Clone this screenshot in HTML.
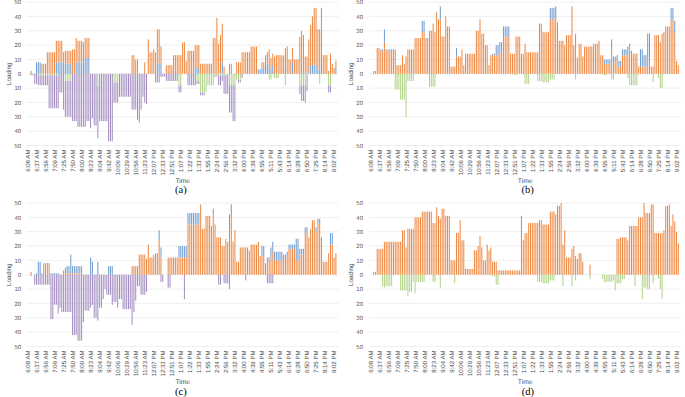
<!DOCTYPE html>
<html><head><meta charset="utf-8"><title>Loading charts</title>
<style>html,body{margin:0;padding:0;background:#fff}svg{display:block}text{font-family:"Liberation Sans",sans-serif;text-rendering:geometricPrecision}text.cap{font-family:"Liberation Serif",serif}</style></head><body>
<svg width="685" height="397" viewBox="0 0 685 397">
<rect width="685" height="397" fill="#fff"/>
<line x1="26.60" x2="338.60" y1="145.50" y2="145.50" stroke="#E9E9E9" stroke-width="0.75"/>
<line x1="26.60" x2="338.60" y1="131.16" y2="131.16" stroke="#E9E9E9" stroke-width="0.75"/>
<line x1="26.60" x2="338.60" y1="116.82" y2="116.82" stroke="#E9E9E9" stroke-width="0.75"/>
<line x1="26.60" x2="338.60" y1="102.48" y2="102.48" stroke="#E9E9E9" stroke-width="0.75"/>
<line x1="26.60" x2="338.60" y1="88.14" y2="88.14" stroke="#E9E9E9" stroke-width="0.75"/>
<line x1="26.60" x2="338.60" y1="73.80" y2="73.80" stroke="#E9E9E9" stroke-width="0.75"/>
<line x1="26.60" x2="338.60" y1="59.46" y2="59.46" stroke="#E9E9E9" stroke-width="0.75"/>
<line x1="26.60" x2="338.60" y1="45.12" y2="45.12" stroke="#E9E9E9" stroke-width="0.75"/>
<line x1="26.60" x2="338.60" y1="30.78" y2="30.78" stroke="#E9E9E9" stroke-width="0.75"/>
<line x1="26.60" x2="338.60" y1="16.44" y2="16.44" stroke="#E9E9E9" stroke-width="0.75"/>
<line x1="26.60" x2="338.60" y1="2.10" y2="2.10" stroke="#E9E9E9" stroke-width="0.75"/>
<text x="21.10" y="147.70" font-size="6.0" fill="#595959" text-anchor="end">50</text>
<text x="21.10" y="133.36" font-size="6.0" fill="#595959" text-anchor="end">40</text>
<text x="21.10" y="119.02" font-size="6.0" fill="#595959" text-anchor="end">30</text>
<text x="21.10" y="104.68" font-size="6.0" fill="#595959" text-anchor="end">20</text>
<text x="21.10" y="90.34" font-size="6.0" fill="#595959" text-anchor="end">10</text>
<text x="21.10" y="76.00" font-size="6.0" fill="#595959" text-anchor="end">0</text>
<text x="21.10" y="61.66" font-size="6.0" fill="#595959" text-anchor="end">10</text>
<text x="21.10" y="47.32" font-size="6.0" fill="#595959" text-anchor="end">20</text>
<text x="21.10" y="32.98" font-size="6.0" fill="#595959" text-anchor="end">30</text>
<text x="21.10" y="18.64" font-size="6.0" fill="#595959" text-anchor="end">40</text>
<text x="21.10" y="4.30" font-size="6.0" fill="#595959" text-anchor="end">50</text>
<g opacity="0.9"><rect x="30.595" y="70.93" width="1.028" height="2.87" fill="#ED7D31"/><rect x="30.595" y="73.80" width="1.028" height="1.43" fill="#9A83BB"/><rect x="32.398" y="73.80" width="1.028" height="1.43" fill="#9A83BB"/><rect x="34.202" y="73.80" width="1.028" height="10.04" fill="#9A83BB"/><rect x="36.005" y="62.33" width="1.028" height="11.47" fill="#6193CD"/><rect x="36.005" y="73.80" width="1.028" height="10.04" fill="#9A83BB"/><rect x="37.809" y="62.33" width="1.028" height="11.47" fill="#6193CD"/><rect x="37.809" y="73.80" width="1.028" height="1.43" fill="#ACCF7E"/><rect x="37.809" y="75.23" width="1.028" height="10.04" fill="#9A83BB"/><rect x="39.612" y="62.33" width="1.028" height="11.47" fill="#6193CD"/><rect x="39.612" y="73.80" width="1.028" height="1.43" fill="#ACCF7E"/><rect x="39.612" y="75.23" width="1.028" height="10.04" fill="#9A83BB"/><rect x="41.415" y="63.76" width="1.028" height="10.04" fill="#ED7D31"/><rect x="41.415" y="73.80" width="1.028" height="1.43" fill="#ACCF7E"/><rect x="41.415" y="75.23" width="1.028" height="10.04" fill="#9A83BB"/><rect x="43.219" y="63.76" width="1.028" height="10.04" fill="#ED7D31"/><rect x="43.219" y="73.80" width="1.028" height="1.43" fill="#ACCF7E"/><rect x="43.219" y="75.23" width="1.028" height="10.04" fill="#9A83BB"/><rect x="45.022" y="63.76" width="1.028" height="10.04" fill="#ED7D31"/><rect x="45.022" y="73.80" width="1.028" height="1.43" fill="#ACCF7E"/><rect x="45.022" y="75.23" width="1.028" height="10.04" fill="#9A83BB"/><rect x="46.826" y="52.29" width="1.028" height="21.51" fill="#ED7D31"/><rect x="46.826" y="73.80" width="1.028" height="1.43" fill="#ACCF7E"/><rect x="46.826" y="75.23" width="1.028" height="10.04" fill="#9A83BB"/><rect x="48.629" y="52.29" width="1.028" height="21.51" fill="#ED7D31"/><rect x="48.629" y="73.80" width="1.028" height="1.43" fill="#ACCF7E"/><rect x="48.629" y="75.23" width="1.028" height="32.98" fill="#9A83BB"/><rect x="50.433" y="52.29" width="1.028" height="21.51" fill="#ED7D31"/><rect x="50.433" y="73.80" width="1.028" height="1.43" fill="#ACCF7E"/><rect x="50.433" y="75.23" width="1.028" height="32.98" fill="#9A83BB"/><rect x="52.236" y="52.29" width="1.028" height="21.51" fill="#ED7D31"/><rect x="52.236" y="73.80" width="1.028" height="1.43" fill="#ACCF7E"/><rect x="52.236" y="75.23" width="1.028" height="32.98" fill="#9A83BB"/><rect x="54.040" y="52.29" width="1.028" height="21.51" fill="#ED7D31"/><rect x="54.040" y="73.80" width="1.028" height="1.43" fill="#ACCF7E"/><rect x="54.040" y="75.23" width="1.028" height="32.98" fill="#9A83BB"/><rect x="55.843" y="62.33" width="1.028" height="11.47" fill="#6193CD"/><rect x="55.843" y="40.82" width="1.028" height="21.51" fill="#ED7D31"/><rect x="55.843" y="73.80" width="1.028" height="1.43" fill="#ACCF7E"/><rect x="55.843" y="75.23" width="1.028" height="32.98" fill="#9A83BB"/><rect x="57.647" y="62.33" width="1.028" height="11.47" fill="#6193CD"/><rect x="57.647" y="40.82" width="1.028" height="21.51" fill="#ED7D31"/><rect x="57.647" y="73.80" width="1.028" height="1.43" fill="#ACCF7E"/><rect x="57.647" y="75.23" width="1.028" height="32.98" fill="#9A83BB"/><rect x="59.450" y="62.33" width="1.028" height="11.47" fill="#6193CD"/><rect x="59.450" y="40.82" width="1.028" height="21.51" fill="#ED7D31"/><rect x="59.450" y="73.80" width="1.028" height="18.64" fill="#9A83BB"/><rect x="61.254" y="62.33" width="1.028" height="11.47" fill="#6193CD"/><rect x="61.254" y="40.82" width="1.028" height="21.51" fill="#ED7D31"/><rect x="61.254" y="73.80" width="1.028" height="18.64" fill="#9A83BB"/><rect x="63.057" y="62.33" width="1.028" height="11.47" fill="#6193CD"/><rect x="63.057" y="52.29" width="1.028" height="10.04" fill="#ED7D31"/><rect x="63.057" y="73.80" width="1.028" height="35.85" fill="#9A83BB"/><rect x="64.861" y="63.76" width="1.028" height="10.04" fill="#6193CD"/><rect x="64.861" y="50.86" width="1.028" height="12.91" fill="#ED7D31"/><rect x="64.861" y="73.80" width="1.028" height="7.17" fill="#ACCF7E"/><rect x="64.861" y="80.97" width="1.028" height="35.85" fill="#9A83BB"/><rect x="66.664" y="63.76" width="1.028" height="10.04" fill="#6193CD"/><rect x="66.664" y="50.86" width="1.028" height="12.91" fill="#ED7D31"/><rect x="66.664" y="73.80" width="1.028" height="7.17" fill="#ACCF7E"/><rect x="66.664" y="80.97" width="1.028" height="35.85" fill="#9A83BB"/><rect x="68.468" y="63.76" width="1.028" height="10.04" fill="#6193CD"/><rect x="68.468" y="50.86" width="1.028" height="12.91" fill="#ED7D31"/><rect x="68.468" y="73.80" width="1.028" height="7.17" fill="#ACCF7E"/><rect x="68.468" y="80.97" width="1.028" height="35.85" fill="#9A83BB"/><rect x="70.271" y="63.76" width="1.028" height="10.04" fill="#6193CD"/><rect x="70.271" y="50.86" width="1.028" height="12.91" fill="#ED7D31"/><rect x="70.271" y="73.80" width="1.028" height="7.17" fill="#ACCF7E"/><rect x="70.271" y="80.97" width="1.028" height="35.85" fill="#9A83BB"/><rect x="72.074" y="49.42" width="1.028" height="24.38" fill="#ED7D31"/><rect x="72.074" y="73.80" width="1.028" height="47.32" fill="#9A83BB"/><rect x="73.878" y="49.42" width="1.028" height="24.38" fill="#ED7D31"/><rect x="73.878" y="73.80" width="1.028" height="47.32" fill="#9A83BB"/><rect x="75.681" y="62.33" width="1.028" height="11.47" fill="#6193CD"/><rect x="75.681" y="37.95" width="1.028" height="24.38" fill="#ED7D31"/><rect x="75.681" y="73.80" width="1.028" height="47.32" fill="#9A83BB"/><rect x="77.485" y="62.33" width="1.028" height="11.47" fill="#6193CD"/><rect x="77.485" y="40.82" width="1.028" height="21.51" fill="#ED7D31"/><rect x="77.485" y="73.80" width="1.028" height="53.06" fill="#9A83BB"/><rect x="79.288" y="62.33" width="1.028" height="11.47" fill="#6193CD"/><rect x="79.288" y="40.82" width="1.028" height="21.51" fill="#ED7D31"/><rect x="79.288" y="73.80" width="1.028" height="53.06" fill="#9A83BB"/><rect x="81.092" y="62.33" width="1.028" height="11.47" fill="#6193CD"/><rect x="81.092" y="40.82" width="1.028" height="21.51" fill="#ED7D31"/><rect x="81.092" y="73.80" width="1.028" height="53.06" fill="#9A83BB"/><rect x="82.895" y="62.33" width="1.028" height="11.47" fill="#6193CD"/><rect x="82.895" y="42.25" width="1.028" height="20.08" fill="#ED7D31"/><rect x="82.895" y="73.80" width="1.028" height="53.06" fill="#9A83BB"/><rect x="84.699" y="58.03" width="1.028" height="15.77" fill="#6193CD"/><rect x="84.699" y="37.95" width="1.028" height="20.08" fill="#ED7D31"/><rect x="84.699" y="73.80" width="1.028" height="53.06" fill="#9A83BB"/><rect x="86.502" y="58.03" width="1.028" height="15.77" fill="#6193CD"/><rect x="86.502" y="37.95" width="1.028" height="20.08" fill="#ED7D31"/><rect x="86.502" y="73.80" width="1.028" height="47.32" fill="#9A83BB"/><rect x="88.306" y="58.03" width="1.028" height="15.77" fill="#6193CD"/><rect x="88.306" y="37.95" width="1.028" height="20.08" fill="#ED7D31"/><rect x="88.306" y="73.80" width="1.028" height="47.32" fill="#9A83BB"/><rect x="90.109" y="73.80" width="1.028" height="54.49" fill="#9A83BB"/><rect x="91.913" y="73.80" width="1.028" height="44.45" fill="#9A83BB"/><rect x="93.716" y="73.80" width="1.028" height="51.62" fill="#9A83BB"/><rect x="95.520" y="73.80" width="1.028" height="51.62" fill="#9A83BB"/><rect x="97.323" y="73.80" width="1.028" height="12.91" fill="#ACCF7E"/><rect x="97.323" y="86.71" width="1.028" height="51.62" fill="#9A83BB"/><rect x="99.126" y="73.80" width="1.028" height="47.32" fill="#9A83BB"/><rect x="100.930" y="73.80" width="1.028" height="47.32" fill="#9A83BB"/><rect x="102.733" y="73.80" width="1.028" height="47.32" fill="#9A83BB"/><rect x="104.537" y="73.80" width="1.028" height="47.32" fill="#9A83BB"/><rect x="106.340" y="73.80" width="1.028" height="47.32" fill="#9A83BB"/><rect x="108.144" y="73.80" width="1.028" height="67.40" fill="#9A83BB"/><rect x="109.947" y="73.80" width="1.028" height="67.40" fill="#9A83BB"/><rect x="111.751" y="73.80" width="1.028" height="67.40" fill="#9A83BB"/><rect x="113.554" y="73.80" width="1.028" height="8.60" fill="#ACCF7E"/><rect x="113.554" y="82.40" width="1.028" height="20.08" fill="#9A83BB"/><rect x="115.358" y="73.80" width="1.028" height="8.60" fill="#ACCF7E"/><rect x="115.358" y="82.40" width="1.028" height="20.08" fill="#9A83BB"/><rect x="117.161" y="73.80" width="1.028" height="8.60" fill="#ACCF7E"/><rect x="117.161" y="82.40" width="1.028" height="20.08" fill="#9A83BB"/><rect x="118.965" y="73.80" width="1.028" height="22.94" fill="#9A83BB"/><rect x="120.768" y="73.80" width="1.028" height="22.94" fill="#9A83BB"/><rect x="122.572" y="73.80" width="1.028" height="22.94" fill="#9A83BB"/><rect x="124.375" y="73.80" width="1.028" height="22.94" fill="#9A83BB"/><rect x="126.178" y="73.80" width="1.028" height="22.94" fill="#9A83BB"/><rect x="127.982" y="73.80" width="1.028" height="22.94" fill="#9A83BB"/><rect x="129.785" y="73.80" width="1.028" height="22.94" fill="#9A83BB"/><rect x="131.589" y="55.16" width="1.028" height="18.64" fill="#ED7D31"/><rect x="131.589" y="73.80" width="1.028" height="35.85" fill="#9A83BB"/><rect x="133.392" y="55.16" width="1.028" height="18.64" fill="#ED7D31"/><rect x="133.392" y="73.80" width="1.028" height="35.85" fill="#9A83BB"/><rect x="135.196" y="59.46" width="1.028" height="14.34" fill="#ED7D31"/><rect x="135.196" y="73.80" width="1.028" height="35.85" fill="#9A83BB"/><rect x="136.999" y="59.46" width="1.028" height="14.34" fill="#ED7D31"/><rect x="136.999" y="73.80" width="1.028" height="45.89" fill="#9A83BB"/><rect x="138.803" y="73.80" width="1.028" height="48.76" fill="#9A83BB"/><rect x="140.606" y="73.80" width="1.028" height="35.85" fill="#9A83BB"/><rect x="142.410" y="73.80" width="1.028" height="22.94" fill="#9A83BB"/><rect x="144.213" y="62.33" width="1.028" height="11.47" fill="#ED7D31"/><rect x="144.213" y="73.80" width="1.028" height="28.68" fill="#9A83BB"/><rect x="146.017" y="73.80" width="1.028" height="30.11" fill="#9A83BB"/><rect x="147.820" y="39.38" width="1.028" height="34.42" fill="#ED7D31"/><rect x="149.624" y="52.29" width="1.028" height="21.51" fill="#ED7D31"/><rect x="151.427" y="52.29" width="1.028" height="21.51" fill="#ED7D31"/><rect x="153.231" y="49.42" width="1.028" height="24.38" fill="#ED7D31"/><rect x="155.034" y="52.29" width="1.028" height="21.51" fill="#ED7D31"/><rect x="155.034" y="73.80" width="1.028" height="8.60" fill="#9A83BB"/><rect x="156.837" y="63.76" width="1.028" height="10.04" fill="#6193CD"/><rect x="156.837" y="29.35" width="1.028" height="34.42" fill="#ED7D31"/><rect x="156.837" y="73.80" width="1.028" height="8.60" fill="#9A83BB"/><rect x="158.641" y="63.76" width="1.028" height="10.04" fill="#6193CD"/><rect x="158.641" y="29.35" width="1.028" height="34.42" fill="#ED7D31"/><rect x="158.641" y="73.80" width="1.028" height="8.60" fill="#9A83BB"/><rect x="160.444" y="63.76" width="1.028" height="10.04" fill="#6193CD"/><rect x="160.444" y="46.55" width="1.028" height="17.21" fill="#ED7D31"/><rect x="160.444" y="73.80" width="1.028" height="2.87" fill="#9A83BB"/><rect x="162.248" y="73.80" width="1.028" height="2.87" fill="#9A83BB"/><rect x="164.051" y="73.80" width="1.028" height="2.87" fill="#9A83BB"/><rect x="165.855" y="65.20" width="1.028" height="8.60" fill="#ED7D31"/><rect x="165.855" y="73.80" width="1.028" height="7.17" fill="#9A83BB"/><rect x="167.658" y="65.20" width="1.028" height="8.60" fill="#ED7D31"/><rect x="167.658" y="73.80" width="1.028" height="7.17" fill="#9A83BB"/><rect x="169.462" y="65.20" width="1.028" height="8.60" fill="#ED7D31"/><rect x="169.462" y="73.80" width="1.028" height="7.17" fill="#9A83BB"/><rect x="171.265" y="65.20" width="1.028" height="8.60" fill="#ED7D31"/><rect x="171.265" y="73.80" width="1.028" height="7.17" fill="#9A83BB"/><rect x="173.069" y="55.16" width="1.028" height="18.64" fill="#ED7D31"/><rect x="173.069" y="73.80" width="1.028" height="7.17" fill="#9A83BB"/><rect x="174.872" y="55.16" width="1.028" height="18.64" fill="#ED7D31"/><rect x="174.872" y="73.80" width="1.028" height="7.17" fill="#9A83BB"/><rect x="176.676" y="55.16" width="1.028" height="18.64" fill="#ED7D31"/><rect x="176.676" y="73.80" width="1.028" height="7.17" fill="#9A83BB"/><rect x="178.479" y="55.16" width="1.028" height="18.64" fill="#ED7D31"/><rect x="178.479" y="73.80" width="1.028" height="11.47" fill="#ACCF7E"/><rect x="178.479" y="85.27" width="1.028" height="7.17" fill="#9A83BB"/><rect x="180.283" y="55.16" width="1.028" height="18.64" fill="#ED7D31"/><rect x="180.283" y="73.80" width="1.028" height="11.47" fill="#ACCF7E"/><rect x="180.283" y="85.27" width="1.028" height="7.17" fill="#9A83BB"/><rect x="182.086" y="42.25" width="1.028" height="31.55" fill="#ED7D31"/><rect x="183.889" y="42.25" width="1.028" height="31.55" fill="#ED7D31"/><rect x="185.693" y="60.89" width="1.028" height="12.91" fill="#ED7D31"/><rect x="187.496" y="50.86" width="1.028" height="22.94" fill="#ED7D31"/><rect x="187.496" y="73.80" width="1.028" height="11.47" fill="#9A83BB"/><rect x="189.300" y="50.86" width="1.028" height="22.94" fill="#ED7D31"/><rect x="189.300" y="73.80" width="1.028" height="11.47" fill="#9A83BB"/><rect x="191.103" y="50.86" width="1.028" height="22.94" fill="#ED7D31"/><rect x="191.103" y="73.80" width="1.028" height="11.47" fill="#9A83BB"/><rect x="192.907" y="50.86" width="1.028" height="22.94" fill="#ED7D31"/><rect x="192.907" y="73.80" width="1.028" height="11.47" fill="#9A83BB"/><rect x="194.710" y="68.06" width="1.028" height="5.74" fill="#6193CD"/><rect x="194.710" y="45.12" width="1.028" height="22.94" fill="#ED7D31"/><rect x="194.710" y="73.80" width="1.028" height="11.47" fill="#9A83BB"/><rect x="196.514" y="68.06" width="1.028" height="5.74" fill="#6193CD"/><rect x="196.514" y="45.12" width="1.028" height="22.94" fill="#ED7D31"/><rect x="196.514" y="73.80" width="1.028" height="7.17" fill="#ACCF7E"/><rect x="196.514" y="80.97" width="1.028" height="2.87" fill="#9A83BB"/><rect x="198.317" y="68.06" width="1.028" height="5.74" fill="#6193CD"/><rect x="198.317" y="45.12" width="1.028" height="22.94" fill="#ED7D31"/><rect x="198.317" y="73.80" width="1.028" height="7.17" fill="#ACCF7E"/><rect x="198.317" y="80.97" width="1.028" height="2.87" fill="#9A83BB"/><rect x="200.121" y="63.76" width="1.028" height="10.04" fill="#ED7D31"/><rect x="200.121" y="73.80" width="1.028" height="18.64" fill="#ACCF7E"/><rect x="200.121" y="92.44" width="1.028" height="2.87" fill="#9A83BB"/><rect x="201.924" y="63.76" width="1.028" height="10.04" fill="#ED7D31"/><rect x="201.924" y="73.80" width="1.028" height="18.64" fill="#ACCF7E"/><rect x="201.924" y="92.44" width="1.028" height="2.87" fill="#9A83BB"/><rect x="203.728" y="63.76" width="1.028" height="10.04" fill="#ED7D31"/><rect x="203.728" y="73.80" width="1.028" height="18.64" fill="#ACCF7E"/><rect x="203.728" y="92.44" width="1.028" height="2.87" fill="#9A83BB"/><rect x="205.531" y="63.76" width="1.028" height="10.04" fill="#ED7D31"/><rect x="205.531" y="73.80" width="1.028" height="18.64" fill="#ACCF7E"/><rect x="207.335" y="63.76" width="1.028" height="10.04" fill="#ED7D31"/><rect x="207.335" y="73.80" width="1.028" height="11.47" fill="#ACCF7E"/><rect x="209.138" y="63.76" width="1.028" height="10.04" fill="#ED7D31"/><rect x="209.138" y="73.80" width="1.028" height="11.47" fill="#ACCF7E"/><rect x="210.942" y="63.76" width="1.028" height="10.04" fill="#ED7D31"/><rect x="210.942" y="73.80" width="1.028" height="11.47" fill="#ACCF7E"/><rect x="212.745" y="37.95" width="1.028" height="35.85" fill="#ED7D31"/><rect x="212.745" y="73.80" width="1.028" height="11.47" fill="#ACCF7E"/><rect x="214.548" y="37.95" width="1.028" height="35.85" fill="#ED7D31"/><rect x="214.548" y="73.80" width="1.028" height="1.43" fill="#ACCF7E"/><rect x="214.548" y="75.23" width="1.028" height="1.43" fill="#9A83BB"/><rect x="216.352" y="17.87" width="1.028" height="55.93" fill="#ED7D31"/><rect x="216.352" y="73.80" width="1.028" height="1.43" fill="#ACCF7E"/><rect x="216.352" y="75.23" width="1.028" height="1.43" fill="#9A83BB"/><rect x="218.155" y="43.69" width="1.028" height="30.11" fill="#ED7D31"/><rect x="218.155" y="73.80" width="1.028" height="1.43" fill="#ACCF7E"/><rect x="218.155" y="75.23" width="1.028" height="10.04" fill="#9A83BB"/><rect x="219.959" y="35.08" width="1.028" height="38.72" fill="#ED7D31"/><rect x="219.959" y="73.80" width="1.028" height="1.43" fill="#ACCF7E"/><rect x="219.959" y="75.23" width="1.028" height="10.04" fill="#9A83BB"/><rect x="221.762" y="62.33" width="1.028" height="11.47" fill="#6193CD"/><rect x="221.762" y="23.61" width="1.028" height="38.72" fill="#ED7D31"/><rect x="221.762" y="73.80" width="1.028" height="1.43" fill="#ACCF7E"/><rect x="221.762" y="75.23" width="1.028" height="5.74" fill="#9A83BB"/><rect x="223.566" y="66.63" width="1.028" height="7.17" fill="#ED7D31"/><rect x="223.566" y="73.80" width="1.028" height="1.43" fill="#ACCF7E"/><rect x="223.566" y="75.23" width="1.028" height="18.64" fill="#9A83BB"/><rect x="225.369" y="73.80" width="1.028" height="1.43" fill="#ACCF7E"/><rect x="225.369" y="75.23" width="1.028" height="18.64" fill="#9A83BB"/><rect x="227.173" y="73.80" width="1.028" height="1.43" fill="#ACCF7E"/><rect x="227.173" y="75.23" width="1.028" height="18.64" fill="#9A83BB"/><rect x="228.976" y="63.76" width="1.028" height="10.04" fill="#ED7D31"/><rect x="228.976" y="73.80" width="1.028" height="11.47" fill="#ACCF7E"/><rect x="228.976" y="85.27" width="1.028" height="27.25" fill="#9A83BB"/><rect x="230.780" y="63.76" width="1.028" height="10.04" fill="#ED7D31"/><rect x="230.780" y="73.80" width="1.028" height="11.47" fill="#ACCF7E"/><rect x="230.780" y="85.27" width="1.028" height="27.25" fill="#9A83BB"/><rect x="232.583" y="73.80" width="1.028" height="11.47" fill="#ACCF7E"/><rect x="232.583" y="85.27" width="1.028" height="35.85" fill="#9A83BB"/><rect x="234.387" y="73.80" width="1.028" height="11.47" fill="#ACCF7E"/><rect x="234.387" y="85.27" width="1.028" height="35.85" fill="#9A83BB"/><rect x="236.190" y="62.33" width="1.028" height="11.47" fill="#ED7D31"/><rect x="236.190" y="73.80" width="1.028" height="5.74" fill="#ACCF7E"/><rect x="237.994" y="62.33" width="1.028" height="11.47" fill="#ED7D31"/><rect x="237.994" y="73.80" width="1.028" height="5.74" fill="#ACCF7E"/><rect x="237.994" y="79.54" width="1.028" height="2.87" fill="#9A83BB"/><rect x="239.797" y="62.33" width="1.028" height="11.47" fill="#ED7D31"/><rect x="239.797" y="73.80" width="1.028" height="5.74" fill="#ACCF7E"/><rect x="239.797" y="79.54" width="1.028" height="2.87" fill="#9A83BB"/><rect x="241.600" y="52.29" width="1.028" height="21.51" fill="#ED7D31"/><rect x="241.600" y="73.80" width="1.028" height="4.30" fill="#9A83BB"/><rect x="243.404" y="52.29" width="1.028" height="21.51" fill="#ED7D31"/><rect x="245.207" y="52.29" width="1.028" height="21.51" fill="#ED7D31"/><rect x="247.011" y="52.29" width="1.028" height="21.51" fill="#ED7D31"/><rect x="248.814" y="52.29" width="1.028" height="21.51" fill="#ED7D31"/><rect x="250.618" y="46.55" width="1.028" height="27.25" fill="#ED7D31"/><rect x="252.421" y="46.55" width="1.028" height="27.25" fill="#ED7D31"/><rect x="254.225" y="46.55" width="1.028" height="27.25" fill="#ED7D31"/><rect x="256.028" y="46.55" width="1.028" height="27.25" fill="#ED7D31"/><rect x="257.832" y="69.50" width="1.028" height="4.30" fill="#6193CD"/><rect x="259.635" y="69.50" width="1.028" height="4.30" fill="#6193CD"/><rect x="261.439" y="68.06" width="1.028" height="5.74" fill="#6193CD"/><rect x="261.439" y="62.33" width="1.028" height="5.74" fill="#ED7D31"/><rect x="263.242" y="66.63" width="1.028" height="7.17" fill="#6193CD"/><rect x="263.242" y="62.33" width="1.028" height="4.30" fill="#ED7D31"/><rect x="265.046" y="65.91" width="1.028" height="7.89" fill="#6193CD"/><rect x="265.046" y="55.16" width="1.028" height="10.75" fill="#ED7D31"/><rect x="266.849" y="63.76" width="1.028" height="10.04" fill="#6193CD"/><rect x="266.849" y="52.29" width="1.028" height="11.47" fill="#ED7D31"/><rect x="268.652" y="63.76" width="1.028" height="10.04" fill="#6193CD"/><rect x="268.652" y="49.42" width="1.028" height="14.34" fill="#ED7D31"/><rect x="268.652" y="73.80" width="1.028" height="5.74" fill="#ACCF7E"/><rect x="270.456" y="69.50" width="1.028" height="4.30" fill="#6193CD"/><rect x="270.456" y="58.03" width="1.028" height="11.47" fill="#ED7D31"/><rect x="270.456" y="73.80" width="1.028" height="5.74" fill="#ACCF7E"/><rect x="272.259" y="65.20" width="1.028" height="8.60" fill="#6193CD"/><rect x="272.259" y="53.72" width="1.028" height="11.47" fill="#ED7D31"/><rect x="274.063" y="56.59" width="1.028" height="17.21" fill="#ED7D31"/><rect x="274.063" y="73.80" width="1.028" height="4.30" fill="#ACCF7E"/><rect x="275.866" y="55.16" width="1.028" height="18.64" fill="#ED7D31"/><rect x="275.866" y="73.80" width="1.028" height="4.30" fill="#ACCF7E"/><rect x="277.670" y="55.16" width="1.028" height="18.64" fill="#ED7D31"/><rect x="277.670" y="73.80" width="1.028" height="4.30" fill="#ACCF7E"/><rect x="279.473" y="55.16" width="1.028" height="18.64" fill="#ED7D31"/><rect x="281.277" y="55.16" width="1.028" height="18.64" fill="#ED7D31"/><rect x="283.080" y="55.16" width="1.028" height="18.64" fill="#ED7D31"/><rect x="284.884" y="66.63" width="1.028" height="7.17" fill="#6193CD"/><rect x="284.884" y="47.99" width="1.028" height="18.64" fill="#ED7D31"/><rect x="284.884" y="73.80" width="1.028" height="11.47" fill="#ACCF7E"/><rect x="286.687" y="46.55" width="1.028" height="27.25" fill="#ED7D31"/><rect x="288.491" y="59.46" width="1.028" height="14.34" fill="#ED7D31"/><rect x="290.294" y="59.46" width="1.028" height="14.34" fill="#ED7D31"/><rect x="292.098" y="62.33" width="1.028" height="11.47" fill="#6193CD"/><rect x="292.098" y="47.99" width="1.028" height="14.34" fill="#ED7D31"/><rect x="293.901" y="59.46" width="1.028" height="14.34" fill="#ED7D31"/><rect x="295.705" y="59.46" width="1.028" height="14.34" fill="#ED7D31"/><rect x="297.508" y="59.46" width="1.028" height="14.34" fill="#ED7D31"/><rect x="299.311" y="36.52" width="1.028" height="37.28" fill="#ED7D31"/><rect x="299.311" y="73.80" width="1.028" height="11.47" fill="#ACCF7E"/><rect x="299.311" y="85.27" width="1.028" height="8.60" fill="#9A83BB"/><rect x="301.115" y="68.06" width="1.028" height="5.74" fill="#6193CD"/><rect x="301.115" y="30.78" width="1.028" height="37.28" fill="#ED7D31"/><rect x="301.115" y="73.80" width="1.028" height="11.47" fill="#ACCF7E"/><rect x="301.115" y="85.27" width="1.028" height="15.77" fill="#9A83BB"/><rect x="302.918" y="72.37" width="1.028" height="1.43" fill="#6193CD"/><rect x="302.918" y="35.08" width="1.028" height="37.28" fill="#ED7D31"/><rect x="302.918" y="73.80" width="1.028" height="11.47" fill="#ACCF7E"/><rect x="302.918" y="85.27" width="1.028" height="15.77" fill="#9A83BB"/><rect x="304.722" y="72.37" width="1.028" height="1.43" fill="#6193CD"/><rect x="304.722" y="56.59" width="1.028" height="15.77" fill="#ED7D31"/><rect x="304.722" y="73.80" width="1.028" height="11.47" fill="#ACCF7E"/><rect x="304.722" y="85.27" width="1.028" height="17.21" fill="#9A83BB"/><rect x="306.525" y="72.37" width="1.028" height="1.43" fill="#6193CD"/><rect x="306.525" y="56.59" width="1.028" height="15.77" fill="#ED7D31"/><rect x="306.525" y="73.80" width="1.028" height="1.43" fill="#ACCF7E"/><rect x="306.525" y="75.23" width="1.028" height="15.77" fill="#9A83BB"/><rect x="308.329" y="39.38" width="1.028" height="34.42" fill="#ED7D31"/><rect x="310.132" y="65.20" width="1.028" height="8.60" fill="#6193CD"/><rect x="310.132" y="25.04" width="1.028" height="40.15" fill="#ED7D31"/><rect x="311.936" y="65.20" width="1.028" height="8.60" fill="#6193CD"/><rect x="311.936" y="16.44" width="1.028" height="48.76" fill="#ED7D31"/><rect x="313.739" y="65.20" width="1.028" height="8.60" fill="#6193CD"/><rect x="313.739" y="7.84" width="1.028" height="57.36" fill="#ED7D31"/><rect x="315.543" y="65.20" width="1.028" height="8.60" fill="#6193CD"/><rect x="315.543" y="7.84" width="1.028" height="57.36" fill="#ED7D31"/><rect x="317.346" y="69.50" width="1.028" height="4.30" fill="#6193CD"/><rect x="317.346" y="29.35" width="1.028" height="40.15" fill="#ED7D31"/><rect x="319.150" y="69.50" width="1.028" height="4.30" fill="#6193CD"/><rect x="319.150" y="29.35" width="1.028" height="40.15" fill="#ED7D31"/><rect x="319.150" y="73.80" width="1.028" height="10.04" fill="#ACCF7E"/><rect x="320.953" y="59.46" width="1.028" height="14.34" fill="#6193CD"/><rect x="320.953" y="7.84" width="1.028" height="51.62" fill="#ED7D31"/><rect x="322.757" y="55.16" width="1.028" height="18.64" fill="#ED7D31"/><rect x="324.560" y="55.16" width="1.028" height="18.64" fill="#ED7D31"/><rect x="326.363" y="55.16" width="1.028" height="18.64" fill="#ED7D31"/><rect x="328.167" y="70.93" width="1.028" height="2.87" fill="#ED7D31"/><rect x="328.167" y="73.80" width="1.028" height="11.47" fill="#ACCF7E"/><rect x="328.167" y="85.27" width="1.028" height="7.17" fill="#9A83BB"/><rect x="329.970" y="53.72" width="1.028" height="20.08" fill="#ED7D31"/><rect x="329.970" y="73.80" width="1.028" height="11.47" fill="#ACCF7E"/><rect x="329.970" y="85.27" width="1.028" height="7.17" fill="#9A83BB"/><rect x="331.774" y="63.76" width="1.028" height="10.04" fill="#ED7D31"/><rect x="333.577" y="68.06" width="1.028" height="5.74" fill="#ED7D31"/><rect x="335.381" y="66.63" width="1.028" height="7.17" fill="#6193CD"/><rect x="335.381" y="60.89" width="1.028" height="5.74" fill="#ED7D31"/></g>
<text transform="translate(29.80,149.50) rotate(-90)" font-size="6.1" fill="#4d4d4d" text-anchor="end">6:08 AM</text>
<text transform="translate(38.82,149.50) rotate(-90)" font-size="6.1" fill="#4d4d4d" text-anchor="end">6:37 AM</text>
<text transform="translate(47.84,149.50) rotate(-90)" font-size="6.1" fill="#4d4d4d" text-anchor="end">6:56 AM</text>
<text transform="translate(56.85,149.50) rotate(-90)" font-size="6.1" fill="#4d4d4d" text-anchor="end">7:09 AM</text>
<text transform="translate(65.87,149.50) rotate(-90)" font-size="6.1" fill="#4d4d4d" text-anchor="end">7:25 AM</text>
<text transform="translate(74.89,149.50) rotate(-90)" font-size="6.1" fill="#4d4d4d" text-anchor="end">7:50 AM</text>
<text transform="translate(83.91,149.50) rotate(-90)" font-size="6.1" fill="#4d4d4d" text-anchor="end">8:00 AM</text>
<text transform="translate(92.92,149.50) rotate(-90)" font-size="6.1" fill="#4d4d4d" text-anchor="end">8:23 AM</text>
<text transform="translate(101.94,149.50) rotate(-90)" font-size="6.1" fill="#4d4d4d" text-anchor="end">9:04 AM</text>
<text transform="translate(110.96,149.50) rotate(-90)" font-size="6.1" fill="#4d4d4d" text-anchor="end">9:42 AM</text>
<text transform="translate(119.98,149.50) rotate(-90)" font-size="6.1" fill="#4d4d4d" text-anchor="end">10:06 AM</text>
<text transform="translate(128.99,149.50) rotate(-90)" font-size="6.1" fill="#4d4d4d" text-anchor="end">10:29 AM</text>
<text transform="translate(138.01,149.50) rotate(-90)" font-size="6.1" fill="#4d4d4d" text-anchor="end">10:56 AM</text>
<text transform="translate(147.03,149.50) rotate(-90)" font-size="6.1" fill="#4d4d4d" text-anchor="end">11:23 AM</text>
<text transform="translate(156.04,149.50) rotate(-90)" font-size="6.1" fill="#4d4d4d" text-anchor="end">12:07 PM</text>
<text transform="translate(165.06,149.50) rotate(-90)" font-size="6.1" fill="#4d4d4d" text-anchor="end">12:33 PM</text>
<text transform="translate(174.08,149.50) rotate(-90)" font-size="6.1" fill="#4d4d4d" text-anchor="end">12:51 PM</text>
<text transform="translate(183.10,149.50) rotate(-90)" font-size="6.1" fill="#4d4d4d" text-anchor="end">1:07 PM</text>
<text transform="translate(192.11,149.50) rotate(-90)" font-size="6.1" fill="#4d4d4d" text-anchor="end">1:22 PM</text>
<text transform="translate(201.13,149.50) rotate(-90)" font-size="6.1" fill="#4d4d4d" text-anchor="end">1:33 PM</text>
<text transform="translate(210.15,149.50) rotate(-90)" font-size="6.1" fill="#4d4d4d" text-anchor="end">1:55 PM</text>
<text transform="translate(219.17,149.50) rotate(-90)" font-size="6.1" fill="#4d4d4d" text-anchor="end">2:24 PM</text>
<text transform="translate(228.18,149.50) rotate(-90)" font-size="6.1" fill="#4d4d4d" text-anchor="end">2:56 PM</text>
<text transform="translate(237.20,149.50) rotate(-90)" font-size="6.1" fill="#4d4d4d" text-anchor="end">3:32 PM</text>
<text transform="translate(246.22,149.50) rotate(-90)" font-size="6.1" fill="#4d4d4d" text-anchor="end">4:00 PM</text>
<text transform="translate(255.24,149.50) rotate(-90)" font-size="6.1" fill="#4d4d4d" text-anchor="end">4:39 PM</text>
<text transform="translate(264.25,149.50) rotate(-90)" font-size="6.1" fill="#4d4d4d" text-anchor="end">4:55 PM</text>
<text transform="translate(273.27,149.50) rotate(-90)" font-size="6.1" fill="#4d4d4d" text-anchor="end">5:11 PM</text>
<text transform="translate(282.29,149.50) rotate(-90)" font-size="6.1" fill="#4d4d4d" text-anchor="end">5:43 PM</text>
<text transform="translate(291.30,149.50) rotate(-90)" font-size="6.1" fill="#4d4d4d" text-anchor="end">6:14 PM</text>
<text transform="translate(300.32,149.50) rotate(-90)" font-size="6.1" fill="#4d4d4d" text-anchor="end">6:28 PM</text>
<text transform="translate(309.34,149.50) rotate(-90)" font-size="6.1" fill="#4d4d4d" text-anchor="end">6:50 PM</text>
<text transform="translate(318.36,149.50) rotate(-90)" font-size="6.1" fill="#4d4d4d" text-anchor="end">7:25 PM</text>
<text transform="translate(327.37,149.50) rotate(-90)" font-size="6.1" fill="#4d4d4d" text-anchor="end">8:14 PM</text>
<text transform="translate(336.39,149.50) rotate(-90)" font-size="6.1" fill="#4d4d4d" text-anchor="end">9:02 PM</text>
<text x="182.70" y="182.90" font-size="6.7" fill="#4a4a4a" text-anchor="middle">Time</text>
<text transform="translate(11.40,73.80) rotate(-90)" font-size="6.4" fill="#4a4a4a" text-anchor="middle">Loading</text>
<text x="180.90" y="193.30" font-size="10.5" fill="#000" text-anchor="middle" class="cap">(a)</text>
<line x1="369.10" x2="681.05" y1="145.50" y2="145.50" stroke="#E9E9E9" stroke-width="0.75"/>
<line x1="369.10" x2="681.05" y1="131.16" y2="131.16" stroke="#E9E9E9" stroke-width="0.75"/>
<line x1="369.10" x2="681.05" y1="116.82" y2="116.82" stroke="#E9E9E9" stroke-width="0.75"/>
<line x1="369.10" x2="681.05" y1="102.48" y2="102.48" stroke="#E9E9E9" stroke-width="0.75"/>
<line x1="369.10" x2="681.05" y1="88.14" y2="88.14" stroke="#E9E9E9" stroke-width="0.75"/>
<line x1="369.10" x2="681.05" y1="73.80" y2="73.80" stroke="#E9E9E9" stroke-width="0.75"/>
<line x1="369.10" x2="681.05" y1="59.46" y2="59.46" stroke="#E9E9E9" stroke-width="0.75"/>
<line x1="369.10" x2="681.05" y1="45.12" y2="45.12" stroke="#E9E9E9" stroke-width="0.75"/>
<line x1="369.10" x2="681.05" y1="30.78" y2="30.78" stroke="#E9E9E9" stroke-width="0.75"/>
<line x1="369.10" x2="681.05" y1="16.44" y2="16.44" stroke="#E9E9E9" stroke-width="0.75"/>
<line x1="369.10" x2="681.05" y1="2.10" y2="2.10" stroke="#E9E9E9" stroke-width="0.75"/>
<text x="363.00" y="147.70" font-size="6.0" fill="#595959" text-anchor="end">50</text>
<text x="363.00" y="133.36" font-size="6.0" fill="#595959" text-anchor="end">40</text>
<text x="363.00" y="119.02" font-size="6.0" fill="#595959" text-anchor="end">30</text>
<text x="363.00" y="104.68" font-size="6.0" fill="#595959" text-anchor="end">20</text>
<text x="363.00" y="90.34" font-size="6.0" fill="#595959" text-anchor="end">10</text>
<text x="363.00" y="76.00" font-size="6.0" fill="#595959" text-anchor="end">0</text>
<text x="363.00" y="61.66" font-size="6.0" fill="#595959" text-anchor="end">10</text>
<text x="363.00" y="47.32" font-size="6.0" fill="#595959" text-anchor="end">20</text>
<text x="363.00" y="32.98" font-size="6.0" fill="#595959" text-anchor="end">30</text>
<text x="363.00" y="18.64" font-size="6.0" fill="#595959" text-anchor="end">40</text>
<text x="363.00" y="4.30" font-size="6.0" fill="#595959" text-anchor="end">50</text>
<g opacity="0.9"><rect x="373.094" y="70.93" width="1.028" height="2.87" fill="#ED7D31"/><rect x="374.897" y="70.93" width="1.028" height="2.87" fill="#ED7D31"/><rect x="376.700" y="47.99" width="1.028" height="25.81" fill="#ED7D31"/><rect x="378.504" y="47.99" width="1.028" height="25.81" fill="#ED7D31"/><rect x="380.307" y="50.86" width="1.028" height="22.94" fill="#ED7D31"/><rect x="380.307" y="49.42" width="1.028" height="1.43" fill="#6193CD"/><rect x="382.110" y="50.86" width="1.028" height="22.94" fill="#ED7D31"/><rect x="382.110" y="49.42" width="1.028" height="1.43" fill="#6193CD"/><rect x="383.913" y="42.25" width="1.028" height="31.55" fill="#ED7D31"/><rect x="383.913" y="29.35" width="1.028" height="12.91" fill="#6193CD"/><rect x="385.716" y="50.86" width="1.028" height="22.94" fill="#ED7D31"/><rect x="385.716" y="49.42" width="1.028" height="1.43" fill="#6193CD"/><rect x="387.519" y="50.86" width="1.028" height="22.94" fill="#ED7D31"/><rect x="387.519" y="49.42" width="1.028" height="1.43" fill="#6193CD"/><rect x="389.323" y="50.86" width="1.028" height="22.94" fill="#ED7D31"/><rect x="389.323" y="49.42" width="1.028" height="1.43" fill="#6193CD"/><rect x="391.126" y="50.86" width="1.028" height="22.94" fill="#ED7D31"/><rect x="391.126" y="49.42" width="1.028" height="1.43" fill="#6193CD"/><rect x="392.929" y="50.86" width="1.028" height="22.94" fill="#ED7D31"/><rect x="392.929" y="49.42" width="1.028" height="1.43" fill="#6193CD"/><rect x="394.732" y="50.86" width="1.028" height="22.94" fill="#ED7D31"/><rect x="394.732" y="49.42" width="1.028" height="1.43" fill="#6193CD"/><rect x="394.732" y="73.80" width="1.028" height="15.77" fill="#ACCF7E"/><rect x="396.535" y="65.20" width="1.028" height="8.60" fill="#ED7D31"/><rect x="396.535" y="73.80" width="1.028" height="15.77" fill="#ACCF7E"/><rect x="398.339" y="65.20" width="1.028" height="8.60" fill="#ED7D31"/><rect x="398.339" y="73.80" width="1.028" height="15.77" fill="#ACCF7E"/><rect x="400.142" y="65.20" width="1.028" height="8.60" fill="#ED7D31"/><rect x="400.142" y="73.80" width="1.028" height="25.81" fill="#ACCF7E"/><rect x="401.945" y="55.16" width="1.028" height="18.64" fill="#ED7D31"/><rect x="401.945" y="73.80" width="1.028" height="25.81" fill="#ACCF7E"/><rect x="403.748" y="63.76" width="1.028" height="10.04" fill="#ED7D31"/><rect x="403.748" y="73.80" width="1.028" height="25.81" fill="#ACCF7E"/><rect x="405.551" y="56.59" width="1.028" height="17.21" fill="#ED7D31"/><rect x="405.551" y="73.80" width="1.028" height="43.02" fill="#ACCF7E"/><rect x="407.354" y="49.42" width="1.028" height="24.38" fill="#ED7D31"/><rect x="407.354" y="73.80" width="1.028" height="7.17" fill="#ACCF7E"/><rect x="409.158" y="49.42" width="1.028" height="24.38" fill="#ED7D31"/><rect x="409.158" y="73.80" width="1.028" height="7.17" fill="#ACCF7E"/><rect x="410.961" y="49.42" width="1.028" height="24.38" fill="#ED7D31"/><rect x="410.961" y="73.80" width="1.028" height="7.17" fill="#ACCF7E"/><rect x="412.764" y="49.42" width="1.028" height="24.38" fill="#ED7D31"/><rect x="412.764" y="73.80" width="1.028" height="7.17" fill="#ACCF7E"/><rect x="414.567" y="37.95" width="1.028" height="35.85" fill="#ED7D31"/><rect x="416.370" y="37.95" width="1.028" height="35.85" fill="#ED7D31"/><rect x="418.174" y="37.95" width="1.028" height="35.85" fill="#ED7D31"/><rect x="419.977" y="37.95" width="1.028" height="35.85" fill="#ED7D31"/><rect x="421.780" y="32.21" width="1.028" height="41.59" fill="#ED7D31"/><rect x="421.780" y="20.74" width="1.028" height="11.47" fill="#6193CD"/><rect x="423.583" y="32.21" width="1.028" height="41.59" fill="#ED7D31"/><rect x="423.583" y="20.74" width="1.028" height="11.47" fill="#6193CD"/><rect x="425.386" y="37.95" width="1.028" height="35.85" fill="#ED7D31"/><rect x="427.189" y="37.95" width="1.028" height="35.85" fill="#ED7D31"/><rect x="428.993" y="30.78" width="1.028" height="43.02" fill="#ED7D31"/><rect x="428.993" y="73.80" width="1.028" height="12.91" fill="#ACCF7E"/><rect x="430.796" y="30.78" width="1.028" height="43.02" fill="#ED7D31"/><rect x="430.796" y="73.80" width="1.028" height="12.91" fill="#ACCF7E"/><rect x="432.599" y="23.61" width="1.028" height="50.19" fill="#ED7D31"/><rect x="432.599" y="73.80" width="1.028" height="12.91" fill="#ACCF7E"/><rect x="434.402" y="32.21" width="1.028" height="41.59" fill="#ED7D31"/><rect x="434.402" y="73.80" width="1.028" height="12.91" fill="#ACCF7E"/><rect x="436.205" y="12.14" width="1.028" height="61.66" fill="#ED7D31"/><rect x="438.008" y="19.31" width="1.028" height="54.49" fill="#ED7D31"/><rect x="439.812" y="19.31" width="1.028" height="54.49" fill="#ED7D31"/><rect x="439.812" y="6.40" width="1.028" height="12.91" fill="#6193CD"/><rect x="441.615" y="36.52" width="1.028" height="37.28" fill="#ED7D31"/><rect x="443.418" y="36.52" width="1.028" height="37.28" fill="#ED7D31"/><rect x="445.221" y="16.44" width="1.028" height="57.36" fill="#ED7D31"/><rect x="447.024" y="26.48" width="1.028" height="47.32" fill="#ED7D31"/><rect x="448.828" y="26.48" width="1.028" height="47.32" fill="#ED7D31"/><rect x="450.631" y="66.63" width="1.028" height="7.17" fill="#ED7D31"/><rect x="452.434" y="66.63" width="1.028" height="7.17" fill="#ED7D31"/><rect x="454.237" y="66.63" width="1.028" height="7.17" fill="#ED7D31"/><rect x="456.040" y="56.59" width="1.028" height="17.21" fill="#ED7D31"/><rect x="456.040" y="47.99" width="1.028" height="8.60" fill="#6193CD"/><rect x="457.843" y="56.59" width="1.028" height="17.21" fill="#ED7D31"/><rect x="459.647" y="56.59" width="1.028" height="17.21" fill="#ED7D31"/><rect x="461.450" y="49.42" width="1.028" height="24.38" fill="#ED7D31"/><rect x="463.253" y="65.20" width="1.028" height="8.60" fill="#ED7D31"/><rect x="465.056" y="53.72" width="1.028" height="20.08" fill="#ED7D31"/><rect x="466.859" y="53.72" width="1.028" height="20.08" fill="#ED7D31"/><rect x="468.663" y="53.72" width="1.028" height="20.08" fill="#ED7D31"/><rect x="470.466" y="53.72" width="1.028" height="20.08" fill="#ED7D31"/><rect x="472.269" y="53.72" width="1.028" height="20.08" fill="#ED7D31"/><rect x="474.072" y="53.72" width="1.028" height="20.08" fill="#ED7D31"/><rect x="475.875" y="30.78" width="1.028" height="43.02" fill="#ED7D31"/><rect x="477.678" y="30.78" width="1.028" height="43.02" fill="#ED7D31"/><rect x="479.482" y="19.31" width="1.028" height="54.49" fill="#ED7D31"/><rect x="481.285" y="33.65" width="1.028" height="40.15" fill="#ED7D31"/><rect x="483.088" y="33.65" width="1.028" height="40.15" fill="#ED7D31"/><rect x="484.891" y="45.12" width="1.028" height="28.68" fill="#ED7D31"/><rect x="486.694" y="45.12" width="1.028" height="28.68" fill="#ED7D31"/><rect x="488.498" y="65.20" width="1.028" height="8.60" fill="#ED7D31"/><rect x="490.301" y="55.16" width="1.028" height="18.64" fill="#ED7D31"/><rect x="492.104" y="55.16" width="1.028" height="18.64" fill="#ED7D31"/><rect x="492.104" y="53.72" width="1.028" height="1.43" fill="#6193CD"/><rect x="493.907" y="55.16" width="1.028" height="18.64" fill="#ED7D31"/><rect x="493.907" y="53.72" width="1.028" height="1.43" fill="#6193CD"/><rect x="495.710" y="55.16" width="1.028" height="18.64" fill="#ED7D31"/><rect x="495.710" y="45.12" width="1.028" height="10.04" fill="#6193CD"/><rect x="497.513" y="55.16" width="1.028" height="18.64" fill="#ED7D31"/><rect x="497.513" y="45.12" width="1.028" height="10.04" fill="#6193CD"/><rect x="499.317" y="52.29" width="1.028" height="21.51" fill="#ED7D31"/><rect x="499.317" y="42.25" width="1.028" height="10.04" fill="#6193CD"/><rect x="501.120" y="52.29" width="1.028" height="21.51" fill="#ED7D31"/><rect x="501.120" y="42.25" width="1.028" height="10.04" fill="#6193CD"/><rect x="502.923" y="36.52" width="1.028" height="37.28" fill="#ED7D31"/><rect x="502.923" y="26.48" width="1.028" height="10.04" fill="#6193CD"/><rect x="504.726" y="36.52" width="1.028" height="37.28" fill="#ED7D31"/><rect x="504.726" y="26.48" width="1.028" height="10.04" fill="#6193CD"/><rect x="506.529" y="36.52" width="1.028" height="37.28" fill="#ED7D31"/><rect x="506.529" y="26.48" width="1.028" height="10.04" fill="#6193CD"/><rect x="508.332" y="36.52" width="1.028" height="37.28" fill="#ED7D31"/><rect x="508.332" y="26.48" width="1.028" height="10.04" fill="#6193CD"/><rect x="510.136" y="53.72" width="1.028" height="20.08" fill="#ED7D31"/><rect x="511.939" y="53.72" width="1.028" height="20.08" fill="#ED7D31"/><rect x="513.742" y="53.72" width="1.028" height="20.08" fill="#ED7D31"/><rect x="513.742" y="73.80" width="1.028" height="1.43" fill="#ACCF7E"/><rect x="515.545" y="36.52" width="1.028" height="37.28" fill="#ED7D31"/><rect x="515.545" y="73.80" width="1.028" height="1.43" fill="#ACCF7E"/><rect x="517.348" y="36.52" width="1.028" height="37.28" fill="#ED7D31"/><rect x="519.152" y="36.52" width="1.028" height="37.28" fill="#ED7D31"/><rect x="520.955" y="53.72" width="1.028" height="20.08" fill="#ED7D31"/><rect x="522.758" y="53.72" width="1.028" height="20.08" fill="#ED7D31"/><rect x="524.561" y="43.69" width="1.028" height="30.11" fill="#ED7D31"/><rect x="524.561" y="73.80" width="1.028" height="10.04" fill="#ACCF7E"/><rect x="526.364" y="52.29" width="1.028" height="21.51" fill="#ED7D31"/><rect x="526.364" y="73.80" width="1.028" height="10.04" fill="#ACCF7E"/><rect x="528.167" y="52.29" width="1.028" height="21.51" fill="#ED7D31"/><rect x="528.167" y="73.80" width="1.028" height="10.04" fill="#ACCF7E"/><rect x="529.971" y="52.29" width="1.028" height="21.51" fill="#ED7D31"/><rect x="531.774" y="52.29" width="1.028" height="21.51" fill="#ED7D31"/><rect x="533.577" y="52.29" width="1.028" height="21.51" fill="#ED7D31"/><rect x="535.380" y="52.29" width="1.028" height="21.51" fill="#ED7D31"/><rect x="537.183" y="52.29" width="1.028" height="21.51" fill="#ED7D31"/><rect x="537.183" y="73.80" width="1.028" height="7.17" fill="#ACCF7E"/><rect x="538.987" y="23.61" width="1.028" height="50.19" fill="#ED7D31"/><rect x="538.987" y="73.80" width="1.028" height="7.17" fill="#ACCF7E"/><rect x="540.790" y="23.61" width="1.028" height="50.19" fill="#ED7D31"/><rect x="540.790" y="73.80" width="1.028" height="7.17" fill="#ACCF7E"/><rect x="542.593" y="32.21" width="1.028" height="41.59" fill="#ED7D31"/><rect x="542.593" y="73.80" width="1.028" height="8.60" fill="#ACCF7E"/><rect x="544.396" y="32.21" width="1.028" height="41.59" fill="#ED7D31"/><rect x="544.396" y="73.80" width="1.028" height="8.60" fill="#ACCF7E"/><rect x="546.199" y="32.21" width="1.028" height="41.59" fill="#ED7D31"/><rect x="546.199" y="73.80" width="1.028" height="8.60" fill="#ACCF7E"/><rect x="548.002" y="32.21" width="1.028" height="41.59" fill="#ED7D31"/><rect x="548.002" y="73.80" width="1.028" height="8.60" fill="#ACCF7E"/><rect x="549.806" y="19.31" width="1.028" height="54.49" fill="#ED7D31"/><rect x="549.806" y="7.84" width="1.028" height="11.47" fill="#6193CD"/><rect x="549.806" y="73.80" width="1.028" height="5.74" fill="#ACCF7E"/><rect x="551.609" y="19.31" width="1.028" height="54.49" fill="#ED7D31"/><rect x="551.609" y="7.84" width="1.028" height="11.47" fill="#6193CD"/><rect x="551.609" y="73.80" width="1.028" height="5.74" fill="#ACCF7E"/><rect x="553.412" y="19.31" width="1.028" height="54.49" fill="#ED7D31"/><rect x="553.412" y="7.84" width="1.028" height="11.47" fill="#6193CD"/><rect x="553.412" y="73.80" width="1.028" height="5.74" fill="#ACCF7E"/><rect x="555.215" y="17.87" width="1.028" height="55.93" fill="#ED7D31"/><rect x="555.215" y="6.40" width="1.028" height="11.47" fill="#6193CD"/><rect x="557.018" y="22.18" width="1.028" height="51.62" fill="#ED7D31"/><rect x="558.821" y="40.82" width="1.028" height="32.98" fill="#ED7D31"/><rect x="560.625" y="40.82" width="1.028" height="32.98" fill="#ED7D31"/><rect x="562.428" y="40.82" width="1.028" height="32.98" fill="#ED7D31"/><rect x="564.231" y="45.12" width="1.028" height="28.68" fill="#ED7D31"/><rect x="566.034" y="35.08" width="1.028" height="38.72" fill="#ED7D31"/><rect x="567.837" y="35.08" width="1.028" height="38.72" fill="#ED7D31"/><rect x="569.641" y="35.08" width="1.028" height="38.72" fill="#ED7D31"/><rect x="571.444" y="6.40" width="1.028" height="67.40" fill="#ED7D31"/><rect x="573.247" y="45.12" width="1.028" height="28.68" fill="#ED7D31"/><rect x="575.050" y="33.65" width="1.028" height="40.15" fill="#ED7D31"/><rect x="575.050" y="73.80" width="1.028" height="5.74" fill="#ACCF7E"/><rect x="576.853" y="58.03" width="1.028" height="15.77" fill="#ED7D31"/><rect x="578.656" y="43.69" width="1.028" height="30.11" fill="#ED7D31"/><rect x="580.460" y="43.69" width="1.028" height="30.11" fill="#ED7D31"/><rect x="582.263" y="56.59" width="1.028" height="17.21" fill="#ED7D31"/><rect x="584.066" y="46.55" width="1.028" height="27.25" fill="#ED7D31"/><rect x="585.869" y="46.55" width="1.028" height="27.25" fill="#ED7D31"/><rect x="587.672" y="46.55" width="1.028" height="27.25" fill="#ED7D31"/><rect x="589.476" y="46.55" width="1.028" height="27.25" fill="#ED7D31"/><rect x="591.279" y="46.55" width="1.028" height="27.25" fill="#ED7D31"/><rect x="593.082" y="43.69" width="1.028" height="30.11" fill="#ED7D31"/><rect x="594.885" y="43.69" width="1.028" height="30.11" fill="#ED7D31"/><rect x="596.688" y="43.69" width="1.028" height="30.11" fill="#ED7D31"/><rect x="598.491" y="40.82" width="1.028" height="32.98" fill="#ED7D31"/><rect x="600.295" y="55.16" width="1.028" height="18.64" fill="#ED7D31"/><rect x="602.098" y="55.16" width="1.028" height="18.64" fill="#ED7D31"/><rect x="603.901" y="63.76" width="1.028" height="10.04" fill="#ED7D31"/><rect x="603.901" y="59.46" width="1.028" height="4.30" fill="#6193CD"/><rect x="603.901" y="73.80" width="1.028" height="1.43" fill="#ACCF7E"/><rect x="605.704" y="63.76" width="1.028" height="10.04" fill="#ED7D31"/><rect x="605.704" y="59.46" width="1.028" height="4.30" fill="#6193CD"/><rect x="605.704" y="73.80" width="1.028" height="1.43" fill="#ACCF7E"/><rect x="607.507" y="63.76" width="1.028" height="10.04" fill="#ED7D31"/><rect x="607.507" y="59.46" width="1.028" height="4.30" fill="#6193CD"/><rect x="609.311" y="63.76" width="1.028" height="10.04" fill="#ED7D31"/><rect x="609.311" y="59.46" width="1.028" height="4.30" fill="#6193CD"/><rect x="611.114" y="49.42" width="1.028" height="24.38" fill="#ED7D31"/><rect x="611.114" y="39.38" width="1.028" height="10.04" fill="#6193CD"/><rect x="611.114" y="73.80" width="1.028" height="5.74" fill="#ACCF7E"/><rect x="612.917" y="62.33" width="1.028" height="11.47" fill="#ED7D31"/><rect x="612.917" y="56.59" width="1.028" height="5.74" fill="#6193CD"/><rect x="612.917" y="73.80" width="1.028" height="5.74" fill="#ACCF7E"/><rect x="614.720" y="62.33" width="1.028" height="11.47" fill="#ED7D31"/><rect x="614.720" y="56.59" width="1.028" height="5.74" fill="#6193CD"/><rect x="616.523" y="60.89" width="1.028" height="12.91" fill="#ED7D31"/><rect x="616.523" y="55.16" width="1.028" height="5.74" fill="#6193CD"/><rect x="618.326" y="66.63" width="1.028" height="7.17" fill="#ED7D31"/><rect x="618.326" y="60.89" width="1.028" height="5.74" fill="#6193CD"/><rect x="620.130" y="66.63" width="1.028" height="7.17" fill="#ED7D31"/><rect x="620.130" y="60.89" width="1.028" height="5.74" fill="#6193CD"/><rect x="621.933" y="55.16" width="1.028" height="18.64" fill="#ED7D31"/><rect x="621.933" y="49.42" width="1.028" height="5.74" fill="#6193CD"/><rect x="623.736" y="55.16" width="1.028" height="18.64" fill="#ED7D31"/><rect x="623.736" y="49.42" width="1.028" height="5.74" fill="#6193CD"/><rect x="625.539" y="55.16" width="1.028" height="18.64" fill="#ED7D31"/><rect x="625.539" y="49.42" width="1.028" height="5.74" fill="#6193CD"/><rect x="627.342" y="55.16" width="1.028" height="18.64" fill="#ED7D31"/><rect x="627.342" y="46.55" width="1.028" height="8.60" fill="#6193CD"/><rect x="627.342" y="73.80" width="1.028" height="4.30" fill="#ACCF7E"/><rect x="629.145" y="46.55" width="1.028" height="27.25" fill="#ED7D31"/><rect x="629.145" y="43.69" width="1.028" height="2.87" fill="#6193CD"/><rect x="629.145" y="73.80" width="1.028" height="11.47" fill="#ACCF7E"/><rect x="630.949" y="53.72" width="1.028" height="20.08" fill="#ED7D31"/><rect x="630.949" y="50.86" width="1.028" height="2.87" fill="#6193CD"/><rect x="630.949" y="73.80" width="1.028" height="11.47" fill="#ACCF7E"/><rect x="632.752" y="53.72" width="1.028" height="20.08" fill="#ED7D31"/><rect x="632.752" y="73.80" width="1.028" height="11.47" fill="#ACCF7E"/><rect x="634.555" y="53.72" width="1.028" height="20.08" fill="#ED7D31"/><rect x="634.555" y="73.80" width="1.028" height="11.47" fill="#ACCF7E"/><rect x="636.358" y="53.72" width="1.028" height="20.08" fill="#ED7D31"/><rect x="636.358" y="73.80" width="1.028" height="11.47" fill="#ACCF7E"/><rect x="638.161" y="66.63" width="1.028" height="7.17" fill="#ED7D31"/><rect x="639.965" y="66.63" width="1.028" height="7.17" fill="#ED7D31"/><rect x="639.965" y="49.42" width="1.028" height="17.21" fill="#6193CD"/><rect x="641.768" y="66.63" width="1.028" height="7.17" fill="#ED7D31"/><rect x="641.768" y="49.42" width="1.028" height="17.21" fill="#6193CD"/><rect x="643.571" y="66.63" width="1.028" height="7.17" fill="#ED7D31"/><rect x="643.571" y="55.16" width="1.028" height="11.47" fill="#6193CD"/><rect x="645.374" y="66.63" width="1.028" height="7.17" fill="#ED7D31"/><rect x="645.374" y="55.16" width="1.028" height="11.47" fill="#6193CD"/><rect x="647.177" y="58.03" width="1.028" height="15.77" fill="#ED7D31"/><rect x="647.177" y="33.65" width="1.028" height="24.38" fill="#6193CD"/><rect x="648.980" y="58.03" width="1.028" height="15.77" fill="#ED7D31"/><rect x="648.980" y="33.65" width="1.028" height="24.38" fill="#6193CD"/><rect x="650.784" y="66.63" width="1.028" height="7.17" fill="#ED7D31"/><rect x="652.587" y="66.63" width="1.028" height="7.17" fill="#ED7D31"/><rect x="652.587" y="73.80" width="1.028" height="8.60" fill="#ACCF7E"/><rect x="654.390" y="35.08" width="1.028" height="38.72" fill="#ED7D31"/><rect x="656.193" y="35.08" width="1.028" height="38.72" fill="#ED7D31"/><rect x="657.996" y="35.08" width="1.028" height="38.72" fill="#ED7D31"/><rect x="657.996" y="73.80" width="1.028" height="4.30" fill="#ACCF7E"/><rect x="659.800" y="42.25" width="1.028" height="31.55" fill="#ED7D31"/><rect x="659.800" y="73.80" width="1.028" height="14.34" fill="#ACCF7E"/><rect x="661.603" y="33.65" width="1.028" height="40.15" fill="#ED7D31"/><rect x="661.603" y="73.80" width="1.028" height="14.34" fill="#ACCF7E"/><rect x="663.406" y="32.21" width="1.028" height="41.59" fill="#ED7D31"/><rect x="665.209" y="26.48" width="1.028" height="47.32" fill="#ED7D31"/><rect x="667.012" y="26.48" width="1.028" height="47.32" fill="#ED7D31"/><rect x="668.815" y="26.48" width="1.028" height="47.32" fill="#ED7D31"/><rect x="670.619" y="19.31" width="1.028" height="54.49" fill="#ED7D31"/><rect x="670.619" y="7.84" width="1.028" height="11.47" fill="#6193CD"/><rect x="672.422" y="19.31" width="1.028" height="54.49" fill="#ED7D31"/><rect x="672.422" y="7.84" width="1.028" height="11.47" fill="#6193CD"/><rect x="674.225" y="32.21" width="1.028" height="41.59" fill="#ED7D31"/><rect x="674.225" y="20.74" width="1.028" height="11.47" fill="#6193CD"/><rect x="676.028" y="60.89" width="1.028" height="12.91" fill="#ED7D31"/><rect x="677.831" y="65.20" width="1.028" height="8.60" fill="#ED7D31"/></g>
<text transform="translate(372.75,149.50) rotate(-90)" font-size="6.1" fill="#4d4d4d" text-anchor="end">6:08 AM</text>
<text transform="translate(381.77,149.50) rotate(-90)" font-size="6.1" fill="#4d4d4d" text-anchor="end">6:37 AM</text>
<text transform="translate(390.78,149.50) rotate(-90)" font-size="6.1" fill="#4d4d4d" text-anchor="end">6:56 AM</text>
<text transform="translate(399.80,149.50) rotate(-90)" font-size="6.1" fill="#4d4d4d" text-anchor="end">7:09 AM</text>
<text transform="translate(408.82,149.50) rotate(-90)" font-size="6.1" fill="#4d4d4d" text-anchor="end">7:25 AM</text>
<text transform="translate(417.83,149.50) rotate(-90)" font-size="6.1" fill="#4d4d4d" text-anchor="end">7:50 AM</text>
<text transform="translate(426.85,149.50) rotate(-90)" font-size="6.1" fill="#4d4d4d" text-anchor="end">8:00 AM</text>
<text transform="translate(435.86,149.50) rotate(-90)" font-size="6.1" fill="#4d4d4d" text-anchor="end">8:23 AM</text>
<text transform="translate(444.88,149.50) rotate(-90)" font-size="6.1" fill="#4d4d4d" text-anchor="end">9:04 AM</text>
<text transform="translate(453.89,149.50) rotate(-90)" font-size="6.1" fill="#4d4d4d" text-anchor="end">9:42 AM</text>
<text transform="translate(462.91,149.50) rotate(-90)" font-size="6.1" fill="#4d4d4d" text-anchor="end">10:06 AM</text>
<text transform="translate(471.93,149.50) rotate(-90)" font-size="6.1" fill="#4d4d4d" text-anchor="end">10:29 AM</text>
<text transform="translate(480.94,149.50) rotate(-90)" font-size="6.1" fill="#4d4d4d" text-anchor="end">10:56 AM</text>
<text transform="translate(489.96,149.50) rotate(-90)" font-size="6.1" fill="#4d4d4d" text-anchor="end">11:23 AM</text>
<text transform="translate(498.97,149.50) rotate(-90)" font-size="6.1" fill="#4d4d4d" text-anchor="end">12:07 PM</text>
<text transform="translate(507.99,149.50) rotate(-90)" font-size="6.1" fill="#4d4d4d" text-anchor="end">12:33 PM</text>
<text transform="translate(517.01,149.50) rotate(-90)" font-size="6.1" fill="#4d4d4d" text-anchor="end">12:51 PM</text>
<text transform="translate(526.02,149.50) rotate(-90)" font-size="6.1" fill="#4d4d4d" text-anchor="end">1:07 PM</text>
<text transform="translate(535.04,149.50) rotate(-90)" font-size="6.1" fill="#4d4d4d" text-anchor="end">1:22 PM</text>
<text transform="translate(544.05,149.50) rotate(-90)" font-size="6.1" fill="#4d4d4d" text-anchor="end">1:33 PM</text>
<text transform="translate(553.07,149.50) rotate(-90)" font-size="6.1" fill="#4d4d4d" text-anchor="end">1:55 PM</text>
<text transform="translate(562.09,149.50) rotate(-90)" font-size="6.1" fill="#4d4d4d" text-anchor="end">2:24 PM</text>
<text transform="translate(571.10,149.50) rotate(-90)" font-size="6.1" fill="#4d4d4d" text-anchor="end">2:56 PM</text>
<text transform="translate(580.12,149.50) rotate(-90)" font-size="6.1" fill="#4d4d4d" text-anchor="end">3:32 PM</text>
<text transform="translate(589.13,149.50) rotate(-90)" font-size="6.1" fill="#4d4d4d" text-anchor="end">4:00 PM</text>
<text transform="translate(598.15,149.50) rotate(-90)" font-size="6.1" fill="#4d4d4d" text-anchor="end">4:39 PM</text>
<text transform="translate(607.16,149.50) rotate(-90)" font-size="6.1" fill="#4d4d4d" text-anchor="end">4:55 PM</text>
<text transform="translate(616.18,149.50) rotate(-90)" font-size="6.1" fill="#4d4d4d" text-anchor="end">5:11 PM</text>
<text transform="translate(625.20,149.50) rotate(-90)" font-size="6.1" fill="#4d4d4d" text-anchor="end">5:43 PM</text>
<text transform="translate(634.21,149.50) rotate(-90)" font-size="6.1" fill="#4d4d4d" text-anchor="end">6:14 PM</text>
<text transform="translate(643.23,149.50) rotate(-90)" font-size="6.1" fill="#4d4d4d" text-anchor="end">6:28 PM</text>
<text transform="translate(652.24,149.50) rotate(-90)" font-size="6.1" fill="#4d4d4d" text-anchor="end">6:50 PM</text>
<text transform="translate(661.26,149.50) rotate(-90)" font-size="6.1" fill="#4d4d4d" text-anchor="end">7:25 PM</text>
<text transform="translate(670.28,149.50) rotate(-90)" font-size="6.1" fill="#4d4d4d" text-anchor="end">8:14 PM</text>
<text transform="translate(679.29,149.50) rotate(-90)" font-size="6.1" fill="#4d4d4d" text-anchor="end">9:02 PM</text>
<text x="525.18" y="182.90" font-size="6.7" fill="#4a4a4a" text-anchor="middle">Time</text>
<text transform="translate(353.40,73.80) rotate(-90)" font-size="6.4" fill="#4a4a4a" text-anchor="middle">Loading</text>
<text x="527.70" y="193.30" font-size="10.5" fill="#000" text-anchor="middle" class="cap">(b)</text>
<line x1="26.60" x2="338.60" y1="346.40" y2="346.40" stroke="#E9E9E9" stroke-width="0.75"/>
<line x1="26.60" x2="338.60" y1="332.06" y2="332.06" stroke="#E9E9E9" stroke-width="0.75"/>
<line x1="26.60" x2="338.60" y1="317.72" y2="317.72" stroke="#E9E9E9" stroke-width="0.75"/>
<line x1="26.60" x2="338.60" y1="303.38" y2="303.38" stroke="#E9E9E9" stroke-width="0.75"/>
<line x1="26.60" x2="338.60" y1="289.04" y2="289.04" stroke="#E9E9E9" stroke-width="0.75"/>
<line x1="26.60" x2="338.60" y1="274.70" y2="274.70" stroke="#E9E9E9" stroke-width="0.75"/>
<line x1="26.60" x2="338.60" y1="260.36" y2="260.36" stroke="#E9E9E9" stroke-width="0.75"/>
<line x1="26.60" x2="338.60" y1="246.02" y2="246.02" stroke="#E9E9E9" stroke-width="0.75"/>
<line x1="26.60" x2="338.60" y1="231.68" y2="231.68" stroke="#E9E9E9" stroke-width="0.75"/>
<line x1="26.60" x2="338.60" y1="217.34" y2="217.34" stroke="#E9E9E9" stroke-width="0.75"/>
<line x1="26.60" x2="338.60" y1="203.00" y2="203.00" stroke="#E9E9E9" stroke-width="0.75"/>
<text x="21.10" y="348.60" font-size="6.0" fill="#595959" text-anchor="end">50</text>
<text x="21.10" y="334.26" font-size="6.0" fill="#595959" text-anchor="end">40</text>
<text x="21.10" y="319.92" font-size="6.0" fill="#595959" text-anchor="end">30</text>
<text x="21.10" y="305.58" font-size="6.0" fill="#595959" text-anchor="end">20</text>
<text x="21.10" y="291.24" font-size="6.0" fill="#595959" text-anchor="end">10</text>
<text x="21.10" y="276.90" font-size="6.0" fill="#595959" text-anchor="end">0</text>
<text x="21.10" y="262.56" font-size="6.0" fill="#595959" text-anchor="end">10</text>
<text x="21.10" y="248.22" font-size="6.0" fill="#595959" text-anchor="end">20</text>
<text x="21.10" y="233.88" font-size="6.0" fill="#595959" text-anchor="end">30</text>
<text x="21.10" y="219.54" font-size="6.0" fill="#595959" text-anchor="end">40</text>
<text x="21.10" y="205.20" font-size="6.0" fill="#595959" text-anchor="end">50</text>
<g opacity="0.9"><rect x="30.595" y="271.83" width="1.028" height="2.87" fill="#ED7D31"/><rect x="30.595" y="274.70" width="1.028" height="1.43" fill="#9A83BB"/><rect x="34.202" y="274.70" width="1.028" height="10.04" fill="#9A83BB"/><rect x="36.005" y="273.27" width="1.028" height="1.43" fill="#6193CD"/><rect x="36.005" y="274.70" width="1.028" height="10.04" fill="#9A83BB"/><rect x="37.809" y="261.79" width="1.028" height="12.91" fill="#6193CD"/><rect x="37.809" y="274.70" width="1.028" height="10.04" fill="#9A83BB"/><rect x="39.612" y="261.79" width="1.028" height="12.91" fill="#6193CD"/><rect x="39.612" y="274.70" width="1.028" height="10.04" fill="#9A83BB"/><rect x="41.415" y="273.27" width="1.028" height="1.43" fill="#6193CD"/><rect x="41.415" y="274.70" width="1.028" height="10.04" fill="#9A83BB"/><rect x="43.219" y="264.66" width="1.028" height="10.04" fill="#ED7D31"/><rect x="43.219" y="263.23" width="1.028" height="1.43" fill="#6193CD"/><rect x="43.219" y="274.70" width="1.028" height="10.04" fill="#9A83BB"/><rect x="45.022" y="264.66" width="1.028" height="10.04" fill="#ED7D31"/><rect x="45.022" y="263.23" width="1.028" height="1.43" fill="#6193CD"/><rect x="45.022" y="274.70" width="1.028" height="10.04" fill="#9A83BB"/><rect x="46.826" y="264.66" width="1.028" height="10.04" fill="#ED7D31"/><rect x="46.826" y="263.23" width="1.028" height="1.43" fill="#6193CD"/><rect x="46.826" y="274.70" width="1.028" height="10.04" fill="#9A83BB"/><rect x="48.629" y="264.66" width="1.028" height="10.04" fill="#ED7D31"/><rect x="48.629" y="263.23" width="1.028" height="1.43" fill="#6193CD"/><rect x="48.629" y="274.70" width="1.028" height="10.04" fill="#9A83BB"/><rect x="50.433" y="273.27" width="1.028" height="1.43" fill="#6193CD"/><rect x="50.433" y="274.70" width="1.028" height="44.45" fill="#9A83BB"/><rect x="52.236" y="273.27" width="1.028" height="1.43" fill="#6193CD"/><rect x="52.236" y="274.70" width="1.028" height="44.45" fill="#9A83BB"/><rect x="54.040" y="273.27" width="1.028" height="1.43" fill="#6193CD"/><rect x="54.040" y="274.70" width="1.028" height="30.11" fill="#9A83BB"/><rect x="55.843" y="273.27" width="1.028" height="1.43" fill="#6193CD"/><rect x="55.843" y="274.70" width="1.028" height="30.11" fill="#9A83BB"/><rect x="57.647" y="273.27" width="1.028" height="1.43" fill="#6193CD"/><rect x="57.647" y="274.70" width="1.028" height="38.72" fill="#9A83BB"/><rect x="59.450" y="274.70" width="1.028" height="32.98" fill="#9A83BB"/><rect x="61.254" y="274.70" width="1.028" height="37.28" fill="#9A83BB"/><rect x="63.057" y="270.40" width="1.028" height="4.30" fill="#ED7D31"/><rect x="63.057" y="274.70" width="1.028" height="37.28" fill="#9A83BB"/><rect x="64.861" y="273.27" width="1.028" height="1.43" fill="#ED7D31"/><rect x="64.861" y="267.53" width="1.028" height="5.74" fill="#6193CD"/><rect x="64.861" y="274.70" width="1.028" height="37.28" fill="#9A83BB"/><rect x="66.664" y="273.27" width="1.028" height="1.43" fill="#ED7D31"/><rect x="66.664" y="266.10" width="1.028" height="7.17" fill="#6193CD"/><rect x="66.664" y="274.70" width="1.028" height="37.28" fill="#9A83BB"/><rect x="68.468" y="273.27" width="1.028" height="1.43" fill="#ED7D31"/><rect x="68.468" y="266.10" width="1.028" height="7.17" fill="#6193CD"/><rect x="68.468" y="274.70" width="1.028" height="37.28" fill="#9A83BB"/><rect x="70.271" y="273.27" width="1.028" height="1.43" fill="#ED7D31"/><rect x="70.271" y="254.62" width="1.028" height="18.64" fill="#6193CD"/><rect x="70.271" y="274.70" width="1.028" height="37.28" fill="#9A83BB"/><rect x="72.074" y="273.27" width="1.028" height="1.43" fill="#ED7D31"/><rect x="72.074" y="266.10" width="1.028" height="7.17" fill="#6193CD"/><rect x="72.074" y="274.70" width="1.028" height="60.23" fill="#9A83BB"/><rect x="73.878" y="273.27" width="1.028" height="1.43" fill="#ED7D31"/><rect x="73.878" y="266.10" width="1.028" height="7.17" fill="#6193CD"/><rect x="73.878" y="274.70" width="1.028" height="60.23" fill="#9A83BB"/><rect x="75.681" y="273.27" width="1.028" height="1.43" fill="#ED7D31"/><rect x="75.681" y="266.10" width="1.028" height="7.17" fill="#6193CD"/><rect x="75.681" y="274.70" width="1.028" height="60.23" fill="#9A83BB"/><rect x="77.485" y="273.27" width="1.028" height="1.43" fill="#ED7D31"/><rect x="77.485" y="266.10" width="1.028" height="7.17" fill="#6193CD"/><rect x="77.485" y="274.70" width="1.028" height="65.96" fill="#9A83BB"/><rect x="79.288" y="273.27" width="1.028" height="1.43" fill="#ED7D31"/><rect x="79.288" y="266.10" width="1.028" height="7.17" fill="#6193CD"/><rect x="79.288" y="274.70" width="1.028" height="65.96" fill="#9A83BB"/><rect x="81.092" y="273.27" width="1.028" height="1.43" fill="#ED7D31"/><rect x="81.092" y="266.10" width="1.028" height="7.17" fill="#6193CD"/><rect x="81.092" y="274.70" width="1.028" height="65.96" fill="#9A83BB"/><rect x="82.895" y="274.70" width="1.028" height="47.32" fill="#9A83BB"/><rect x="84.699" y="274.70" width="1.028" height="35.85" fill="#9A83BB"/><rect x="86.502" y="274.70" width="1.028" height="35.85" fill="#9A83BB"/><rect x="88.306" y="274.70" width="1.028" height="35.85" fill="#9A83BB"/><rect x="90.109" y="257.49" width="1.028" height="17.21" fill="#6193CD"/><rect x="90.109" y="274.70" width="1.028" height="32.98" fill="#9A83BB"/><rect x="91.913" y="261.79" width="1.028" height="12.91" fill="#6193CD"/><rect x="91.913" y="274.70" width="1.028" height="30.11" fill="#9A83BB"/><rect x="93.716" y="274.70" width="1.028" height="43.02" fill="#9A83BB"/><rect x="95.520" y="274.70" width="1.028" height="43.02" fill="#9A83BB"/><rect x="97.323" y="261.79" width="1.028" height="12.91" fill="#6193CD"/><rect x="97.323" y="274.70" width="1.028" height="45.89" fill="#9A83BB"/><rect x="99.126" y="274.70" width="1.028" height="32.98" fill="#9A83BB"/><rect x="100.930" y="274.70" width="1.028" height="32.98" fill="#9A83BB"/><rect x="102.733" y="274.70" width="1.028" height="24.38" fill="#9A83BB"/><rect x="104.537" y="274.70" width="1.028" height="14.34" fill="#9A83BB"/><rect x="106.340" y="274.70" width="1.028" height="20.08" fill="#9A83BB"/><rect x="108.144" y="266.10" width="1.028" height="8.60" fill="#6193CD"/><rect x="108.144" y="274.70" width="1.028" height="20.08" fill="#9A83BB"/><rect x="109.947" y="266.10" width="1.028" height="8.60" fill="#6193CD"/><rect x="109.947" y="274.70" width="1.028" height="20.08" fill="#9A83BB"/><rect x="111.751" y="266.10" width="1.028" height="8.60" fill="#6193CD"/><rect x="111.751" y="274.70" width="1.028" height="30.11" fill="#9A83BB"/><rect x="113.554" y="274.70" width="1.028" height="27.25" fill="#9A83BB"/><rect x="115.358" y="274.70" width="1.028" height="27.25" fill="#9A83BB"/><rect x="117.161" y="274.70" width="1.028" height="32.98" fill="#9A83BB"/><rect x="118.965" y="274.70" width="1.028" height="24.38" fill="#9A83BB"/><rect x="120.768" y="274.70" width="1.028" height="24.38" fill="#9A83BB"/><rect x="122.572" y="274.70" width="1.028" height="34.42" fill="#9A83BB"/><rect x="124.375" y="274.70" width="1.028" height="34.42" fill="#9A83BB"/><rect x="126.178" y="274.70" width="1.028" height="34.42" fill="#9A83BB"/><rect x="127.982" y="274.70" width="1.028" height="34.42" fill="#9A83BB"/><rect x="129.785" y="274.70" width="1.028" height="34.42" fill="#9A83BB"/><rect x="131.589" y="266.10" width="1.028" height="8.60" fill="#ED7D31"/><rect x="131.589" y="274.70" width="1.028" height="50.19" fill="#9A83BB"/><rect x="133.392" y="266.10" width="1.028" height="8.60" fill="#ED7D31"/><rect x="133.392" y="274.70" width="1.028" height="37.28" fill="#9A83BB"/><rect x="135.196" y="266.10" width="1.028" height="8.60" fill="#ED7D31"/><rect x="135.196" y="274.70" width="1.028" height="25.81" fill="#9A83BB"/><rect x="136.999" y="266.10" width="1.028" height="8.60" fill="#ED7D31"/><rect x="136.999" y="274.70" width="1.028" height="11.47" fill="#9A83BB"/><rect x="138.803" y="254.62" width="1.028" height="20.08" fill="#ED7D31"/><rect x="138.803" y="274.70" width="1.028" height="11.47" fill="#9A83BB"/><rect x="140.606" y="254.62" width="1.028" height="20.08" fill="#ED7D31"/><rect x="140.606" y="274.70" width="1.028" height="20.08" fill="#9A83BB"/><rect x="142.410" y="254.62" width="1.028" height="20.08" fill="#ED7D31"/><rect x="142.410" y="274.70" width="1.028" height="20.08" fill="#9A83BB"/><rect x="144.213" y="254.62" width="1.028" height="20.08" fill="#ED7D31"/><rect x="144.213" y="274.70" width="1.028" height="20.08" fill="#9A83BB"/><rect x="146.017" y="258.93" width="1.028" height="15.77" fill="#ED7D31"/><rect x="146.017" y="274.70" width="1.028" height="17.21" fill="#9A83BB"/><rect x="147.820" y="244.59" width="1.028" height="30.11" fill="#ED7D31"/><rect x="149.624" y="257.49" width="1.028" height="17.21" fill="#ED7D31"/><rect x="151.427" y="257.49" width="1.028" height="17.21" fill="#ED7D31"/><rect x="153.231" y="254.62" width="1.028" height="20.08" fill="#ED7D31"/><rect x="155.034" y="253.19" width="1.028" height="21.51" fill="#ED7D31"/><rect x="156.837" y="253.19" width="1.028" height="21.51" fill="#ED7D31"/><rect x="158.641" y="240.28" width="1.028" height="34.42" fill="#ED7D31"/><rect x="158.641" y="230.25" width="1.028" height="10.04" fill="#6193CD"/><rect x="160.444" y="257.49" width="1.028" height="17.21" fill="#ED7D31"/><rect x="160.444" y="247.45" width="1.028" height="10.04" fill="#6193CD"/><rect x="160.444" y="274.70" width="1.028" height="7.17" fill="#9A83BB"/><rect x="162.248" y="274.70" width="1.028" height="7.17" fill="#9A83BB"/><rect x="167.658" y="257.49" width="1.028" height="17.21" fill="#ED7D31"/><rect x="167.658" y="274.70" width="1.028" height="12.91" fill="#9A83BB"/><rect x="169.462" y="257.49" width="1.028" height="17.21" fill="#ED7D31"/><rect x="169.462" y="274.70" width="1.028" height="12.91" fill="#9A83BB"/><rect x="171.265" y="257.49" width="1.028" height="17.21" fill="#ED7D31"/><rect x="173.069" y="257.49" width="1.028" height="17.21" fill="#ED7D31"/><rect x="174.872" y="257.49" width="1.028" height="17.21" fill="#ED7D31"/><rect x="176.676" y="257.49" width="1.028" height="17.21" fill="#ED7D31"/><rect x="178.479" y="257.49" width="1.028" height="17.21" fill="#ED7D31"/><rect x="178.479" y="246.02" width="1.028" height="11.47" fill="#6193CD"/><rect x="180.283" y="257.49" width="1.028" height="17.21" fill="#ED7D31"/><rect x="180.283" y="246.02" width="1.028" height="11.47" fill="#6193CD"/><rect x="182.086" y="257.49" width="1.028" height="17.21" fill="#ED7D31"/><rect x="182.086" y="246.02" width="1.028" height="11.47" fill="#6193CD"/><rect x="183.889" y="257.49" width="1.028" height="17.21" fill="#ED7D31"/><rect x="183.889" y="246.02" width="1.028" height="11.47" fill="#6193CD"/><rect x="183.889" y="274.70" width="1.028" height="24.38" fill="#9A83BB"/><rect x="185.693" y="257.49" width="1.028" height="17.21" fill="#ED7D31"/><rect x="185.693" y="246.02" width="1.028" height="11.47" fill="#6193CD"/><rect x="187.496" y="224.51" width="1.028" height="50.19" fill="#ED7D31"/><rect x="187.496" y="213.04" width="1.028" height="11.47" fill="#6193CD"/><rect x="189.300" y="224.51" width="1.028" height="50.19" fill="#ED7D31"/><rect x="189.300" y="213.04" width="1.028" height="11.47" fill="#6193CD"/><rect x="191.103" y="224.51" width="1.028" height="50.19" fill="#ED7D31"/><rect x="191.103" y="213.04" width="1.028" height="11.47" fill="#6193CD"/><rect x="192.907" y="224.51" width="1.028" height="50.19" fill="#ED7D31"/><rect x="192.907" y="213.04" width="1.028" height="11.47" fill="#6193CD"/><rect x="194.710" y="224.51" width="1.028" height="50.19" fill="#ED7D31"/><rect x="194.710" y="213.04" width="1.028" height="11.47" fill="#6193CD"/><rect x="196.514" y="224.51" width="1.028" height="50.19" fill="#ED7D31"/><rect x="196.514" y="213.04" width="1.028" height="11.47" fill="#6193CD"/><rect x="198.317" y="224.51" width="1.028" height="50.19" fill="#ED7D31"/><rect x="198.317" y="213.04" width="1.028" height="11.47" fill="#6193CD"/><rect x="200.121" y="204.43" width="1.028" height="70.27" fill="#ED7D31"/><rect x="201.924" y="228.81" width="1.028" height="45.89" fill="#ED7D31"/><rect x="203.728" y="228.81" width="1.028" height="45.89" fill="#ED7D31"/><rect x="205.531" y="215.91" width="1.028" height="58.79" fill="#ED7D31"/><rect x="207.335" y="215.91" width="1.028" height="58.79" fill="#ED7D31"/><rect x="209.138" y="215.91" width="1.028" height="58.79" fill="#ED7D31"/><rect x="210.942" y="225.94" width="1.028" height="48.76" fill="#ED7D31"/><rect x="212.745" y="214.47" width="1.028" height="60.23" fill="#ED7D31"/><rect x="212.745" y="208.74" width="1.028" height="5.74" fill="#6193CD"/><rect x="214.548" y="224.51" width="1.028" height="50.19" fill="#ED7D31"/><rect x="216.352" y="237.42" width="1.028" height="37.28" fill="#ED7D31"/><rect x="218.155" y="237.42" width="1.028" height="37.28" fill="#ED7D31"/><rect x="218.155" y="274.70" width="1.028" height="10.04" fill="#9A83BB"/><rect x="219.959" y="237.42" width="1.028" height="37.28" fill="#ED7D31"/><rect x="219.959" y="274.70" width="1.028" height="10.04" fill="#9A83BB"/><rect x="221.762" y="246.02" width="1.028" height="28.68" fill="#ED7D31"/><rect x="223.566" y="246.02" width="1.028" height="28.68" fill="#ED7D31"/><rect x="223.566" y="274.70" width="1.028" height="8.60" fill="#9A83BB"/><rect x="225.369" y="238.85" width="1.028" height="35.85" fill="#ED7D31"/><rect x="225.369" y="274.70" width="1.028" height="8.60" fill="#9A83BB"/><rect x="227.173" y="241.72" width="1.028" height="32.98" fill="#ED7D31"/><rect x="227.173" y="274.70" width="1.028" height="8.60" fill="#9A83BB"/><rect x="228.976" y="225.94" width="1.028" height="48.76" fill="#ED7D31"/><rect x="228.976" y="214.47" width="1.028" height="11.47" fill="#6193CD"/><rect x="228.976" y="274.70" width="1.028" height="14.34" fill="#9A83BB"/><rect x="230.780" y="215.91" width="1.028" height="58.79" fill="#ED7D31"/><rect x="230.780" y="204.43" width="1.028" height="11.47" fill="#6193CD"/><rect x="232.583" y="241.72" width="1.028" height="32.98" fill="#ED7D31"/><rect x="234.387" y="230.25" width="1.028" height="44.45" fill="#ED7D31"/><rect x="236.190" y="261.79" width="1.028" height="12.91" fill="#ED7D31"/><rect x="237.994" y="261.79" width="1.028" height="12.91" fill="#ED7D31"/><rect x="239.797" y="247.45" width="1.028" height="27.25" fill="#ED7D31"/><rect x="241.600" y="247.45" width="1.028" height="27.25" fill="#ED7D31"/><rect x="243.404" y="247.45" width="1.028" height="27.25" fill="#ED7D31"/><rect x="245.207" y="247.45" width="1.028" height="27.25" fill="#ED7D31"/><rect x="245.207" y="274.70" width="1.028" height="5.74" fill="#9A83BB"/><rect x="247.011" y="247.45" width="1.028" height="27.25" fill="#ED7D31"/><rect x="248.814" y="250.32" width="1.028" height="24.38" fill="#ED7D31"/><rect x="250.618" y="244.59" width="1.028" height="30.11" fill="#ED7D31"/><rect x="252.421" y="244.59" width="1.028" height="30.11" fill="#ED7D31"/><rect x="254.225" y="244.59" width="1.028" height="30.11" fill="#ED7D31"/><rect x="256.028" y="244.59" width="1.028" height="30.11" fill="#ED7D31"/><rect x="257.832" y="241.72" width="1.028" height="32.98" fill="#ED7D31"/><rect x="259.635" y="256.06" width="1.028" height="18.64" fill="#ED7D31"/><rect x="261.439" y="256.06" width="1.028" height="18.64" fill="#ED7D31"/><rect x="261.439" y="246.02" width="1.028" height="10.04" fill="#6193CD"/><rect x="263.242" y="256.06" width="1.028" height="18.64" fill="#ED7D31"/><rect x="263.242" y="246.02" width="1.028" height="10.04" fill="#6193CD"/><rect x="265.046" y="268.96" width="1.028" height="5.74" fill="#ED7D31"/><rect x="265.046" y="263.23" width="1.028" height="5.74" fill="#6193CD"/><rect x="266.849" y="263.23" width="1.028" height="11.47" fill="#ED7D31"/><rect x="266.849" y="257.49" width="1.028" height="5.74" fill="#6193CD"/><rect x="266.849" y="274.70" width="1.028" height="8.60" fill="#9A83BB"/><rect x="268.652" y="263.23" width="1.028" height="11.47" fill="#ED7D31"/><rect x="268.652" y="257.49" width="1.028" height="5.74" fill="#6193CD"/><rect x="268.652" y="274.70" width="1.028" height="8.60" fill="#9A83BB"/><rect x="270.456" y="257.49" width="1.028" height="17.21" fill="#ED7D31"/><rect x="270.456" y="247.45" width="1.028" height="10.04" fill="#6193CD"/><rect x="270.456" y="274.70" width="1.028" height="8.60" fill="#9A83BB"/><rect x="272.259" y="251.76" width="1.028" height="22.94" fill="#ED7D31"/><rect x="272.259" y="241.72" width="1.028" height="10.04" fill="#6193CD"/><rect x="272.259" y="274.70" width="1.028" height="8.60" fill="#9A83BB"/><rect x="274.063" y="260.36" width="1.028" height="14.34" fill="#ED7D31"/><rect x="274.063" y="251.76" width="1.028" height="8.60" fill="#6193CD"/><rect x="275.866" y="260.36" width="1.028" height="14.34" fill="#ED7D31"/><rect x="275.866" y="251.76" width="1.028" height="8.60" fill="#6193CD"/><rect x="277.670" y="260.36" width="1.028" height="14.34" fill="#ED7D31"/><rect x="277.670" y="251.76" width="1.028" height="8.60" fill="#6193CD"/><rect x="279.473" y="260.36" width="1.028" height="14.34" fill="#ED7D31"/><rect x="279.473" y="251.76" width="1.028" height="8.60" fill="#6193CD"/><rect x="281.277" y="260.36" width="1.028" height="14.34" fill="#ED7D31"/><rect x="281.277" y="251.76" width="1.028" height="8.60" fill="#6193CD"/><rect x="283.080" y="258.93" width="1.028" height="15.77" fill="#ED7D31"/><rect x="283.080" y="254.62" width="1.028" height="4.30" fill="#6193CD"/><rect x="284.884" y="258.93" width="1.028" height="15.77" fill="#ED7D31"/><rect x="284.884" y="254.62" width="1.028" height="4.30" fill="#6193CD"/><rect x="286.687" y="256.06" width="1.028" height="18.64" fill="#ED7D31"/><rect x="286.687" y="251.76" width="1.028" height="4.30" fill="#6193CD"/><rect x="288.491" y="248.89" width="1.028" height="25.81" fill="#ED7D31"/><rect x="288.491" y="244.59" width="1.028" height="4.30" fill="#6193CD"/><rect x="290.294" y="248.89" width="1.028" height="25.81" fill="#ED7D31"/><rect x="290.294" y="244.59" width="1.028" height="4.30" fill="#6193CD"/><rect x="292.098" y="248.89" width="1.028" height="25.81" fill="#ED7D31"/><rect x="292.098" y="244.59" width="1.028" height="4.30" fill="#6193CD"/><rect x="293.901" y="248.89" width="1.028" height="25.81" fill="#ED7D31"/><rect x="293.901" y="244.59" width="1.028" height="4.30" fill="#6193CD"/><rect x="295.705" y="260.36" width="1.028" height="14.34" fill="#ED7D31"/><rect x="295.705" y="238.85" width="1.028" height="21.51" fill="#6193CD"/><rect x="297.508" y="260.36" width="1.028" height="14.34" fill="#ED7D31"/><rect x="297.508" y="238.85" width="1.028" height="21.51" fill="#6193CD"/><rect x="299.311" y="254.62" width="1.028" height="20.08" fill="#ED7D31"/><rect x="299.311" y="248.89" width="1.028" height="5.74" fill="#6193CD"/><rect x="301.115" y="254.62" width="1.028" height="20.08" fill="#ED7D31"/><rect x="301.115" y="248.89" width="1.028" height="5.74" fill="#6193CD"/><rect x="302.918" y="254.62" width="1.028" height="20.08" fill="#ED7D31"/><rect x="302.918" y="248.89" width="1.028" height="5.74" fill="#6193CD"/><rect x="304.722" y="233.11" width="1.028" height="41.59" fill="#ED7D31"/><rect x="304.722" y="227.38" width="1.028" height="5.74" fill="#6193CD"/><rect x="306.525" y="233.11" width="1.028" height="41.59" fill="#ED7D31"/><rect x="306.525" y="227.38" width="1.028" height="5.74" fill="#6193CD"/><rect x="308.329" y="237.42" width="1.028" height="37.28" fill="#ED7D31"/><rect x="310.132" y="228.81" width="1.028" height="45.89" fill="#ED7D31"/><rect x="311.936" y="220.21" width="1.028" height="54.49" fill="#ED7D31"/><rect x="313.739" y="220.21" width="1.028" height="54.49" fill="#ED7D31"/><rect x="315.543" y="231.68" width="1.028" height="43.02" fill="#ED7D31"/><rect x="315.543" y="227.38" width="1.028" height="4.30" fill="#6193CD"/><rect x="317.346" y="223.08" width="1.028" height="51.62" fill="#ED7D31"/><rect x="317.346" y="218.77" width="1.028" height="4.30" fill="#6193CD"/><rect x="319.150" y="223.08" width="1.028" height="51.62" fill="#ED7D31"/><rect x="319.150" y="218.77" width="1.028" height="4.30" fill="#6193CD"/><rect x="320.953" y="241.72" width="1.028" height="32.98" fill="#ED7D31"/><rect x="320.953" y="237.42" width="1.028" height="4.30" fill="#6193CD"/><rect x="322.757" y="261.79" width="1.028" height="12.91" fill="#ED7D31"/><rect x="324.560" y="261.79" width="1.028" height="12.91" fill="#ED7D31"/><rect x="326.363" y="261.79" width="1.028" height="12.91" fill="#ED7D31"/><rect x="328.167" y="253.19" width="1.028" height="21.51" fill="#ED7D31"/><rect x="329.970" y="244.59" width="1.028" height="30.11" fill="#ED7D31"/><rect x="329.970" y="233.11" width="1.028" height="11.47" fill="#6193CD"/><rect x="331.774" y="244.59" width="1.028" height="30.11" fill="#ED7D31"/><rect x="331.774" y="233.11" width="1.028" height="11.47" fill="#6193CD"/><rect x="333.577" y="257.49" width="1.028" height="17.21" fill="#ED7D31"/><rect x="335.381" y="253.19" width="1.028" height="21.51" fill="#ED7D31"/></g>
<text transform="translate(29.80,350.40) rotate(-90)" font-size="6.1" fill="#4d4d4d" text-anchor="end">6:08 AM</text>
<text transform="translate(38.82,350.40) rotate(-90)" font-size="6.1" fill="#4d4d4d" text-anchor="end">6:37 AM</text>
<text transform="translate(47.84,350.40) rotate(-90)" font-size="6.1" fill="#4d4d4d" text-anchor="end">6:56 AM</text>
<text transform="translate(56.85,350.40) rotate(-90)" font-size="6.1" fill="#4d4d4d" text-anchor="end">7:09 AM</text>
<text transform="translate(65.87,350.40) rotate(-90)" font-size="6.1" fill="#4d4d4d" text-anchor="end">7:25 AM</text>
<text transform="translate(74.89,350.40) rotate(-90)" font-size="6.1" fill="#4d4d4d" text-anchor="end">7:50 AM</text>
<text transform="translate(83.91,350.40) rotate(-90)" font-size="6.1" fill="#4d4d4d" text-anchor="end">8:00 AM</text>
<text transform="translate(92.92,350.40) rotate(-90)" font-size="6.1" fill="#4d4d4d" text-anchor="end">8:23 AM</text>
<text transform="translate(101.94,350.40) rotate(-90)" font-size="6.1" fill="#4d4d4d" text-anchor="end">9:04 AM</text>
<text transform="translate(110.96,350.40) rotate(-90)" font-size="6.1" fill="#4d4d4d" text-anchor="end">9:42 AM</text>
<text transform="translate(119.98,350.40) rotate(-90)" font-size="6.1" fill="#4d4d4d" text-anchor="end">10:06 AM</text>
<text transform="translate(128.99,350.40) rotate(-90)" font-size="6.1" fill="#4d4d4d" text-anchor="end">10:29 AM</text>
<text transform="translate(138.01,350.40) rotate(-90)" font-size="6.1" fill="#4d4d4d" text-anchor="end">10:56 AM</text>
<text transform="translate(147.03,350.40) rotate(-90)" font-size="6.1" fill="#4d4d4d" text-anchor="end">11:23 AM</text>
<text transform="translate(156.04,350.40) rotate(-90)" font-size="6.1" fill="#4d4d4d" text-anchor="end">12:07 PM</text>
<text transform="translate(165.06,350.40) rotate(-90)" font-size="6.1" fill="#4d4d4d" text-anchor="end">12:33 PM</text>
<text transform="translate(174.08,350.40) rotate(-90)" font-size="6.1" fill="#4d4d4d" text-anchor="end">12:51 PM</text>
<text transform="translate(183.10,350.40) rotate(-90)" font-size="6.1" fill="#4d4d4d" text-anchor="end">1:07 PM</text>
<text transform="translate(192.11,350.40) rotate(-90)" font-size="6.1" fill="#4d4d4d" text-anchor="end">1:22 PM</text>
<text transform="translate(201.13,350.40) rotate(-90)" font-size="6.1" fill="#4d4d4d" text-anchor="end">1:33 PM</text>
<text transform="translate(210.15,350.40) rotate(-90)" font-size="6.1" fill="#4d4d4d" text-anchor="end">1:55 PM</text>
<text transform="translate(219.17,350.40) rotate(-90)" font-size="6.1" fill="#4d4d4d" text-anchor="end">2:24 PM</text>
<text transform="translate(228.18,350.40) rotate(-90)" font-size="6.1" fill="#4d4d4d" text-anchor="end">2:56 PM</text>
<text transform="translate(237.20,350.40) rotate(-90)" font-size="6.1" fill="#4d4d4d" text-anchor="end">3:32 PM</text>
<text transform="translate(246.22,350.40) rotate(-90)" font-size="6.1" fill="#4d4d4d" text-anchor="end">4:00 PM</text>
<text transform="translate(255.24,350.40) rotate(-90)" font-size="6.1" fill="#4d4d4d" text-anchor="end">4:39 PM</text>
<text transform="translate(264.25,350.40) rotate(-90)" font-size="6.1" fill="#4d4d4d" text-anchor="end">4:55 PM</text>
<text transform="translate(273.27,350.40) rotate(-90)" font-size="6.1" fill="#4d4d4d" text-anchor="end">5:11 PM</text>
<text transform="translate(282.29,350.40) rotate(-90)" font-size="6.1" fill="#4d4d4d" text-anchor="end">5:43 PM</text>
<text transform="translate(291.30,350.40) rotate(-90)" font-size="6.1" fill="#4d4d4d" text-anchor="end">6:14 PM</text>
<text transform="translate(300.32,350.40) rotate(-90)" font-size="6.1" fill="#4d4d4d" text-anchor="end">6:28 PM</text>
<text transform="translate(309.34,350.40) rotate(-90)" font-size="6.1" fill="#4d4d4d" text-anchor="end">6:50 PM</text>
<text transform="translate(318.36,350.40) rotate(-90)" font-size="6.1" fill="#4d4d4d" text-anchor="end">7:25 PM</text>
<text transform="translate(327.37,350.40) rotate(-90)" font-size="6.1" fill="#4d4d4d" text-anchor="end">8:14 PM</text>
<text transform="translate(336.39,350.40) rotate(-90)" font-size="6.1" fill="#4d4d4d" text-anchor="end">9:02 PM</text>
<text x="182.70" y="383.80" font-size="6.7" fill="#4a4a4a" text-anchor="middle">Time</text>
<text transform="translate(11.40,274.70) rotate(-90)" font-size="6.4" fill="#4a4a4a" text-anchor="middle">Loading</text>
<text x="180.90" y="395.10" font-size="10.5" fill="#000" text-anchor="middle" class="cap">(c)</text>
<line x1="369.10" x2="681.05" y1="346.40" y2="346.40" stroke="#E9E9E9" stroke-width="0.75"/>
<line x1="369.10" x2="681.05" y1="332.06" y2="332.06" stroke="#E9E9E9" stroke-width="0.75"/>
<line x1="369.10" x2="681.05" y1="317.72" y2="317.72" stroke="#E9E9E9" stroke-width="0.75"/>
<line x1="369.10" x2="681.05" y1="303.38" y2="303.38" stroke="#E9E9E9" stroke-width="0.75"/>
<line x1="369.10" x2="681.05" y1="289.04" y2="289.04" stroke="#E9E9E9" stroke-width="0.75"/>
<line x1="369.10" x2="681.05" y1="274.70" y2="274.70" stroke="#E9E9E9" stroke-width="0.75"/>
<line x1="369.10" x2="681.05" y1="260.36" y2="260.36" stroke="#E9E9E9" stroke-width="0.75"/>
<line x1="369.10" x2="681.05" y1="246.02" y2="246.02" stroke="#E9E9E9" stroke-width="0.75"/>
<line x1="369.10" x2="681.05" y1="231.68" y2="231.68" stroke="#E9E9E9" stroke-width="0.75"/>
<line x1="369.10" x2="681.05" y1="217.34" y2="217.34" stroke="#E9E9E9" stroke-width="0.75"/>
<line x1="369.10" x2="681.05" y1="203.00" y2="203.00" stroke="#E9E9E9" stroke-width="0.75"/>
<text x="363.00" y="348.60" font-size="6.0" fill="#595959" text-anchor="end">50</text>
<text x="363.00" y="334.26" font-size="6.0" fill="#595959" text-anchor="end">40</text>
<text x="363.00" y="319.92" font-size="6.0" fill="#595959" text-anchor="end">30</text>
<text x="363.00" y="305.58" font-size="6.0" fill="#595959" text-anchor="end">20</text>
<text x="363.00" y="291.24" font-size="6.0" fill="#595959" text-anchor="end">10</text>
<text x="363.00" y="276.90" font-size="6.0" fill="#595959" text-anchor="end">0</text>
<text x="363.00" y="262.56" font-size="6.0" fill="#595959" text-anchor="end">10</text>
<text x="363.00" y="248.22" font-size="6.0" fill="#595959" text-anchor="end">20</text>
<text x="363.00" y="233.88" font-size="6.0" fill="#595959" text-anchor="end">30</text>
<text x="363.00" y="219.54" font-size="6.0" fill="#595959" text-anchor="end">40</text>
<text x="363.00" y="205.20" font-size="6.0" fill="#595959" text-anchor="end">50</text>
<g opacity="0.9"><rect x="373.094" y="271.83" width="1.028" height="2.87" fill="#ED7D31"/><rect x="374.897" y="271.83" width="1.028" height="2.87" fill="#ED7D31"/><rect x="376.700" y="248.89" width="1.028" height="25.81" fill="#ED7D31"/><rect x="378.504" y="248.89" width="1.028" height="25.81" fill="#ED7D31"/><rect x="380.307" y="248.89" width="1.028" height="25.81" fill="#ED7D31"/><rect x="382.110" y="248.89" width="1.028" height="25.81" fill="#ED7D31"/><rect x="382.110" y="274.70" width="1.028" height="11.47" fill="#ACCF7E"/><rect x="383.913" y="241.72" width="1.028" height="32.98" fill="#ED7D31"/><rect x="383.913" y="274.70" width="1.028" height="12.91" fill="#ACCF7E"/><rect x="385.716" y="241.72" width="1.028" height="32.98" fill="#ED7D31"/><rect x="385.716" y="274.70" width="1.028" height="11.47" fill="#ACCF7E"/><rect x="387.519" y="241.72" width="1.028" height="32.98" fill="#ED7D31"/><rect x="387.519" y="274.70" width="1.028" height="11.47" fill="#ACCF7E"/><rect x="389.323" y="241.72" width="1.028" height="32.98" fill="#ED7D31"/><rect x="389.323" y="274.70" width="1.028" height="11.47" fill="#ACCF7E"/><rect x="391.126" y="241.72" width="1.028" height="32.98" fill="#ED7D31"/><rect x="391.126" y="274.70" width="1.028" height="11.47" fill="#ACCF7E"/><rect x="392.929" y="241.72" width="1.028" height="32.98" fill="#ED7D31"/><rect x="394.732" y="241.72" width="1.028" height="32.98" fill="#ED7D31"/><rect x="396.535" y="241.72" width="1.028" height="32.98" fill="#ED7D31"/><rect x="398.339" y="241.72" width="1.028" height="32.98" fill="#ED7D31"/><rect x="400.142" y="241.72" width="1.028" height="32.98" fill="#ED7D31"/><rect x="400.142" y="274.70" width="1.028" height="15.77" fill="#ACCF7E"/><rect x="401.945" y="230.25" width="1.028" height="44.45" fill="#ED7D31"/><rect x="401.945" y="274.70" width="1.028" height="15.77" fill="#ACCF7E"/><rect x="403.748" y="230.25" width="1.028" height="44.45" fill="#ED7D31"/><rect x="403.748" y="274.70" width="1.028" height="15.77" fill="#ACCF7E"/><rect x="405.551" y="247.45" width="1.028" height="27.25" fill="#ED7D31"/><rect x="405.551" y="274.70" width="1.028" height="15.77" fill="#ACCF7E"/><rect x="407.354" y="228.81" width="1.028" height="45.89" fill="#ED7D31"/><rect x="407.354" y="274.70" width="1.028" height="21.51" fill="#ACCF7E"/><rect x="409.158" y="228.81" width="1.028" height="45.89" fill="#ED7D31"/><rect x="409.158" y="274.70" width="1.028" height="17.21" fill="#ACCF7E"/><rect x="410.961" y="228.81" width="1.028" height="45.89" fill="#ED7D31"/><rect x="410.961" y="274.70" width="1.028" height="17.21" fill="#ACCF7E"/><rect x="412.764" y="228.81" width="1.028" height="45.89" fill="#ED7D31"/><rect x="412.764" y="274.70" width="1.028" height="7.17" fill="#ACCF7E"/><rect x="414.567" y="217.34" width="1.028" height="57.36" fill="#ED7D31"/><rect x="414.567" y="274.70" width="1.028" height="18.64" fill="#ACCF7E"/><rect x="416.370" y="217.34" width="1.028" height="57.36" fill="#ED7D31"/><rect x="416.370" y="274.70" width="1.028" height="7.17" fill="#ACCF7E"/><rect x="418.174" y="217.34" width="1.028" height="57.36" fill="#ED7D31"/><rect x="418.174" y="274.70" width="1.028" height="7.17" fill="#ACCF7E"/><rect x="419.977" y="217.34" width="1.028" height="57.36" fill="#ED7D31"/><rect x="419.977" y="274.70" width="1.028" height="7.17" fill="#ACCF7E"/><rect x="421.780" y="211.60" width="1.028" height="63.10" fill="#ED7D31"/><rect x="421.780" y="274.70" width="1.028" height="7.17" fill="#ACCF7E"/><rect x="423.583" y="211.60" width="1.028" height="63.10" fill="#ED7D31"/><rect x="423.583" y="274.70" width="1.028" height="7.17" fill="#ACCF7E"/><rect x="425.386" y="211.60" width="1.028" height="63.10" fill="#ED7D31"/><rect x="427.189" y="211.60" width="1.028" height="63.10" fill="#ED7D31"/><rect x="428.993" y="211.60" width="1.028" height="63.10" fill="#ED7D31"/><rect x="430.796" y="211.60" width="1.028" height="63.10" fill="#ED7D31"/><rect x="432.599" y="223.08" width="1.028" height="51.62" fill="#ED7D31"/><rect x="432.599" y="274.70" width="1.028" height="7.17" fill="#ACCF7E"/><rect x="434.402" y="223.08" width="1.028" height="51.62" fill="#ED7D31"/><rect x="434.402" y="274.70" width="1.028" height="7.17" fill="#ACCF7E"/><rect x="436.205" y="207.30" width="1.028" height="67.40" fill="#ED7D31"/><rect x="438.008" y="215.91" width="1.028" height="58.79" fill="#ED7D31"/><rect x="439.812" y="218.77" width="1.028" height="55.93" fill="#ED7D31"/><rect x="439.812" y="274.70" width="1.028" height="12.91" fill="#ACCF7E"/><rect x="441.615" y="208.74" width="1.028" height="65.96" fill="#ED7D31"/><rect x="443.418" y="208.74" width="1.028" height="65.96" fill="#ED7D31"/><rect x="445.221" y="215.91" width="1.028" height="58.79" fill="#ED7D31"/><rect x="447.024" y="215.91" width="1.028" height="58.79" fill="#ED7D31"/><rect x="448.828" y="215.91" width="1.028" height="58.79" fill="#ED7D31"/><rect x="450.631" y="260.36" width="1.028" height="14.34" fill="#ED7D31"/><rect x="452.434" y="260.36" width="1.028" height="14.34" fill="#ED7D31"/><rect x="454.237" y="260.36" width="1.028" height="14.34" fill="#ED7D31"/><rect x="454.237" y="274.70" width="1.028" height="8.60" fill="#ACCF7E"/><rect x="456.040" y="233.11" width="1.028" height="41.59" fill="#ED7D31"/><rect x="457.843" y="233.11" width="1.028" height="41.59" fill="#ED7D31"/><rect x="459.647" y="220.21" width="1.028" height="54.49" fill="#ED7D31"/><rect x="461.450" y="240.28" width="1.028" height="34.42" fill="#ED7D31"/><rect x="463.253" y="240.28" width="1.028" height="34.42" fill="#ED7D31"/><rect x="465.056" y="268.96" width="1.028" height="5.74" fill="#ED7D31"/><rect x="466.859" y="268.96" width="1.028" height="5.74" fill="#ED7D31"/><rect x="468.663" y="268.96" width="1.028" height="5.74" fill="#ED7D31"/><rect x="470.466" y="268.96" width="1.028" height="5.74" fill="#ED7D31"/><rect x="472.269" y="268.96" width="1.028" height="5.74" fill="#ED7D31"/><rect x="474.072" y="250.32" width="1.028" height="24.38" fill="#ED7D31"/><rect x="475.875" y="250.32" width="1.028" height="24.38" fill="#ED7D31"/><rect x="477.678" y="246.02" width="1.028" height="28.68" fill="#ED7D31"/><rect x="479.482" y="235.98" width="1.028" height="38.72" fill="#ED7D31"/><rect x="481.285" y="247.45" width="1.028" height="27.25" fill="#ED7D31"/><rect x="483.088" y="260.36" width="1.028" height="14.34" fill="#ED7D31"/><rect x="484.891" y="260.36" width="1.028" height="14.34" fill="#ED7D31"/><rect x="486.694" y="244.59" width="1.028" height="30.11" fill="#ED7D31"/><rect x="488.498" y="250.32" width="1.028" height="24.38" fill="#ED7D31"/><rect x="490.301" y="247.45" width="1.028" height="27.25" fill="#ED7D31"/><rect x="492.104" y="261.79" width="1.028" height="12.91" fill="#ED7D31"/><rect x="492.104" y="274.70" width="1.028" height="1.43" fill="#ACCF7E"/><rect x="493.907" y="261.79" width="1.028" height="12.91" fill="#ED7D31"/><rect x="493.907" y="274.70" width="1.028" height="1.43" fill="#ACCF7E"/><rect x="495.710" y="261.79" width="1.028" height="12.91" fill="#ED7D31"/><rect x="495.710" y="274.70" width="1.028" height="10.04" fill="#ACCF7E"/><rect x="497.513" y="270.40" width="1.028" height="4.30" fill="#ED7D31"/><rect x="497.513" y="274.70" width="1.028" height="10.04" fill="#ACCF7E"/><rect x="499.317" y="270.40" width="1.028" height="4.30" fill="#ED7D31"/><rect x="501.120" y="270.40" width="1.028" height="4.30" fill="#ED7D31"/><rect x="502.923" y="270.40" width="1.028" height="4.30" fill="#ED7D31"/><rect x="504.726" y="270.40" width="1.028" height="4.30" fill="#ED7D31"/><rect x="506.529" y="270.40" width="1.028" height="4.30" fill="#ED7D31"/><rect x="508.332" y="270.40" width="1.028" height="4.30" fill="#ED7D31"/><rect x="510.136" y="270.40" width="1.028" height="4.30" fill="#ED7D31"/><rect x="511.939" y="270.40" width="1.028" height="4.30" fill="#ED7D31"/><rect x="513.742" y="270.40" width="1.028" height="4.30" fill="#ED7D31"/><rect x="515.545" y="270.40" width="1.028" height="4.30" fill="#ED7D31"/><rect x="517.348" y="270.40" width="1.028" height="4.30" fill="#ED7D31"/><rect x="519.152" y="270.40" width="1.028" height="4.30" fill="#ED7D31"/><rect x="520.955" y="215.91" width="1.028" height="58.79" fill="#ED7D31"/><rect x="522.758" y="240.28" width="1.028" height="34.42" fill="#ED7D31"/><rect x="524.561" y="233.11" width="1.028" height="41.59" fill="#ED7D31"/><rect x="526.364" y="233.11" width="1.028" height="41.59" fill="#ED7D31"/><rect x="528.167" y="223.08" width="1.028" height="51.62" fill="#ED7D31"/><rect x="529.971" y="223.08" width="1.028" height="51.62" fill="#ED7D31"/><rect x="531.774" y="223.08" width="1.028" height="51.62" fill="#ED7D31"/><rect x="533.577" y="223.08" width="1.028" height="51.62" fill="#ED7D31"/><rect x="535.380" y="223.08" width="1.028" height="51.62" fill="#ED7D31"/><rect x="537.183" y="223.08" width="1.028" height="51.62" fill="#ED7D31"/><rect x="537.183" y="274.70" width="1.028" height="7.17" fill="#ACCF7E"/><rect x="538.987" y="220.21" width="1.028" height="54.49" fill="#ED7D31"/><rect x="538.987" y="274.70" width="1.028" height="7.17" fill="#ACCF7E"/><rect x="540.790" y="220.21" width="1.028" height="54.49" fill="#ED7D31"/><rect x="540.790" y="274.70" width="1.028" height="7.17" fill="#ACCF7E"/><rect x="542.593" y="224.51" width="1.028" height="50.19" fill="#ED7D31"/><rect x="542.593" y="274.70" width="1.028" height="8.60" fill="#ACCF7E"/><rect x="544.396" y="224.51" width="1.028" height="50.19" fill="#ED7D31"/><rect x="544.396" y="274.70" width="1.028" height="8.60" fill="#ACCF7E"/><rect x="546.199" y="224.51" width="1.028" height="50.19" fill="#ED7D31"/><rect x="546.199" y="274.70" width="1.028" height="8.60" fill="#ACCF7E"/><rect x="548.002" y="224.51" width="1.028" height="50.19" fill="#ED7D31"/><rect x="548.002" y="274.70" width="1.028" height="8.60" fill="#ACCF7E"/><rect x="549.806" y="211.60" width="1.028" height="63.10" fill="#ED7D31"/><rect x="549.806" y="274.70" width="1.028" height="5.74" fill="#ACCF7E"/><rect x="551.609" y="211.60" width="1.028" height="63.10" fill="#ED7D31"/><rect x="551.609" y="274.70" width="1.028" height="5.74" fill="#ACCF7E"/><rect x="553.412" y="211.60" width="1.028" height="63.10" fill="#ED7D31"/><rect x="553.412" y="274.70" width="1.028" height="5.74" fill="#ACCF7E"/><rect x="555.215" y="214.47" width="1.028" height="60.23" fill="#ED7D31"/><rect x="557.018" y="205.87" width="1.028" height="68.83" fill="#ED7D31"/><rect x="558.821" y="205.87" width="1.028" height="68.83" fill="#ED7D31"/><rect x="560.625" y="203.00" width="1.028" height="71.70" fill="#ED7D31"/><rect x="562.428" y="244.59" width="1.028" height="30.11" fill="#ED7D31"/><rect x="562.428" y="274.70" width="1.028" height="11.47" fill="#ACCF7E"/><rect x="564.231" y="230.25" width="1.028" height="44.45" fill="#ED7D31"/><rect x="566.034" y="257.49" width="1.028" height="17.21" fill="#ED7D31"/><rect x="567.837" y="257.49" width="1.028" height="17.21" fill="#ED7D31"/><rect x="569.641" y="257.49" width="1.028" height="17.21" fill="#ED7D31"/><rect x="571.444" y="248.89" width="1.028" height="25.81" fill="#ED7D31"/><rect x="571.444" y="274.70" width="1.028" height="11.47" fill="#ACCF7E"/><rect x="573.247" y="246.02" width="1.028" height="28.68" fill="#ED7D31"/><rect x="575.050" y="256.06" width="1.028" height="18.64" fill="#ED7D31"/><rect x="575.050" y="274.70" width="1.028" height="5.74" fill="#ACCF7E"/><rect x="576.853" y="258.93" width="1.028" height="15.77" fill="#ED7D31"/><rect x="578.656" y="253.19" width="1.028" height="21.51" fill="#ED7D31"/><rect x="580.460" y="253.19" width="1.028" height="21.51" fill="#ED7D31"/><rect x="582.263" y="261.79" width="1.028" height="12.91" fill="#ED7D31"/><rect x="589.476" y="264.66" width="1.028" height="10.04" fill="#ED7D31"/><rect x="589.476" y="274.70" width="1.028" height="4.30" fill="#ACCF7E"/><rect x="602.098" y="274.70" width="1.028" height="4.30" fill="#ACCF7E"/><rect x="603.901" y="274.70" width="1.028" height="7.17" fill="#ACCF7E"/><rect x="605.704" y="274.70" width="1.028" height="7.17" fill="#ACCF7E"/><rect x="607.507" y="274.70" width="1.028" height="7.17" fill="#ACCF7E"/><rect x="609.311" y="274.70" width="1.028" height="7.17" fill="#ACCF7E"/><rect x="611.114" y="274.70" width="1.028" height="7.17" fill="#ACCF7E"/><rect x="612.917" y="274.70" width="1.028" height="5.74" fill="#ACCF7E"/><rect x="614.720" y="274.70" width="1.028" height="15.77" fill="#ACCF7E"/><rect x="616.523" y="238.85" width="1.028" height="35.85" fill="#ED7D31"/><rect x="616.523" y="274.70" width="1.028" height="8.60" fill="#ACCF7E"/><rect x="618.326" y="238.85" width="1.028" height="35.85" fill="#ED7D31"/><rect x="618.326" y="274.70" width="1.028" height="8.60" fill="#ACCF7E"/><rect x="620.130" y="237.42" width="1.028" height="37.28" fill="#ED7D31"/><rect x="620.130" y="274.70" width="1.028" height="8.60" fill="#ACCF7E"/><rect x="621.933" y="237.42" width="1.028" height="37.28" fill="#ED7D31"/><rect x="621.933" y="274.70" width="1.028" height="4.30" fill="#ACCF7E"/><rect x="623.736" y="237.42" width="1.028" height="37.28" fill="#ED7D31"/><rect x="623.736" y="274.70" width="1.028" height="4.30" fill="#ACCF7E"/><rect x="625.539" y="237.42" width="1.028" height="37.28" fill="#ED7D31"/><rect x="627.342" y="240.28" width="1.028" height="34.42" fill="#ED7D31"/><rect x="629.145" y="225.94" width="1.028" height="48.76" fill="#ED7D31"/><rect x="630.949" y="225.94" width="1.028" height="48.76" fill="#ED7D31"/><rect x="632.752" y="225.94" width="1.028" height="48.76" fill="#ED7D31"/><rect x="634.555" y="225.94" width="1.028" height="48.76" fill="#ED7D31"/><rect x="634.555" y="274.70" width="1.028" height="11.47" fill="#ACCF7E"/><rect x="636.358" y="225.94" width="1.028" height="48.76" fill="#ED7D31"/><rect x="638.161" y="217.34" width="1.028" height="57.36" fill="#ED7D31"/><rect x="639.965" y="217.34" width="1.028" height="57.36" fill="#ED7D31"/><rect x="641.768" y="217.34" width="1.028" height="57.36" fill="#ED7D31"/><rect x="641.768" y="274.70" width="1.028" height="24.38" fill="#ACCF7E"/><rect x="643.571" y="203.00" width="1.028" height="71.70" fill="#ED7D31"/><rect x="643.571" y="274.70" width="1.028" height="12.91" fill="#ACCF7E"/><rect x="645.374" y="213.04" width="1.028" height="61.66" fill="#ED7D31"/><rect x="645.374" y="274.70" width="1.028" height="12.91" fill="#ACCF7E"/><rect x="647.177" y="213.04" width="1.028" height="61.66" fill="#ED7D31"/><rect x="647.177" y="274.70" width="1.028" height="14.34" fill="#ACCF7E"/><rect x="648.980" y="213.04" width="1.028" height="61.66" fill="#ED7D31"/><rect x="648.980" y="274.70" width="1.028" height="14.34" fill="#ACCF7E"/><rect x="650.784" y="204.43" width="1.028" height="70.27" fill="#ED7D31"/><rect x="652.587" y="204.43" width="1.028" height="70.27" fill="#ED7D31"/><rect x="652.587" y="274.70" width="1.028" height="8.60" fill="#ACCF7E"/><rect x="654.390" y="233.11" width="1.028" height="41.59" fill="#ED7D31"/><rect x="656.193" y="233.11" width="1.028" height="41.59" fill="#ED7D31"/><rect x="657.996" y="233.11" width="1.028" height="41.59" fill="#ED7D31"/><rect x="657.996" y="274.70" width="1.028" height="4.30" fill="#ACCF7E"/><rect x="659.800" y="233.11" width="1.028" height="41.59" fill="#ED7D31"/><rect x="659.800" y="274.70" width="1.028" height="14.34" fill="#ACCF7E"/><rect x="661.603" y="233.11" width="1.028" height="41.59" fill="#ED7D31"/><rect x="661.603" y="274.70" width="1.028" height="24.38" fill="#ACCF7E"/><rect x="663.406" y="230.25" width="1.028" height="44.45" fill="#ED7D31"/><rect x="665.209" y="205.87" width="1.028" height="68.83" fill="#ED7D31"/><rect x="667.012" y="205.87" width="1.028" height="68.83" fill="#ED7D31"/><rect x="668.815" y="204.43" width="1.028" height="70.27" fill="#ED7D31"/><rect x="670.619" y="225.94" width="1.028" height="48.76" fill="#ED7D31"/><rect x="672.422" y="214.47" width="1.028" height="60.23" fill="#ED7D31"/><rect x="674.225" y="221.64" width="1.028" height="53.06" fill="#ED7D31"/><rect x="676.028" y="231.68" width="1.028" height="43.02" fill="#ED7D31"/><rect x="677.831" y="243.15" width="1.028" height="31.55" fill="#ED7D31"/></g>
<text transform="translate(372.75,350.40) rotate(-90)" font-size="6.1" fill="#4d4d4d" text-anchor="end">6:08 AM</text>
<text transform="translate(381.77,350.40) rotate(-90)" font-size="6.1" fill="#4d4d4d" text-anchor="end">6:37 AM</text>
<text transform="translate(390.78,350.40) rotate(-90)" font-size="6.1" fill="#4d4d4d" text-anchor="end">6:56 AM</text>
<text transform="translate(399.80,350.40) rotate(-90)" font-size="6.1" fill="#4d4d4d" text-anchor="end">7:09 AM</text>
<text transform="translate(408.82,350.40) rotate(-90)" font-size="6.1" fill="#4d4d4d" text-anchor="end">7:25 AM</text>
<text transform="translate(417.83,350.40) rotate(-90)" font-size="6.1" fill="#4d4d4d" text-anchor="end">7:50 AM</text>
<text transform="translate(426.85,350.40) rotate(-90)" font-size="6.1" fill="#4d4d4d" text-anchor="end">8:00 AM</text>
<text transform="translate(435.86,350.40) rotate(-90)" font-size="6.1" fill="#4d4d4d" text-anchor="end">8:23 AM</text>
<text transform="translate(444.88,350.40) rotate(-90)" font-size="6.1" fill="#4d4d4d" text-anchor="end">9:04 AM</text>
<text transform="translate(453.89,350.40) rotate(-90)" font-size="6.1" fill="#4d4d4d" text-anchor="end">9:42 AM</text>
<text transform="translate(462.91,350.40) rotate(-90)" font-size="6.1" fill="#4d4d4d" text-anchor="end">10:06 AM</text>
<text transform="translate(471.93,350.40) rotate(-90)" font-size="6.1" fill="#4d4d4d" text-anchor="end">10:29 AM</text>
<text transform="translate(480.94,350.40) rotate(-90)" font-size="6.1" fill="#4d4d4d" text-anchor="end">10:56 AM</text>
<text transform="translate(489.96,350.40) rotate(-90)" font-size="6.1" fill="#4d4d4d" text-anchor="end">11:23 AM</text>
<text transform="translate(498.97,350.40) rotate(-90)" font-size="6.1" fill="#4d4d4d" text-anchor="end">12:07 PM</text>
<text transform="translate(507.99,350.40) rotate(-90)" font-size="6.1" fill="#4d4d4d" text-anchor="end">12:33 PM</text>
<text transform="translate(517.01,350.40) rotate(-90)" font-size="6.1" fill="#4d4d4d" text-anchor="end">12:51 PM</text>
<text transform="translate(526.02,350.40) rotate(-90)" font-size="6.1" fill="#4d4d4d" text-anchor="end">1:07 PM</text>
<text transform="translate(535.04,350.40) rotate(-90)" font-size="6.1" fill="#4d4d4d" text-anchor="end">1:22 PM</text>
<text transform="translate(544.05,350.40) rotate(-90)" font-size="6.1" fill="#4d4d4d" text-anchor="end">1:33 PM</text>
<text transform="translate(553.07,350.40) rotate(-90)" font-size="6.1" fill="#4d4d4d" text-anchor="end">1:55 PM</text>
<text transform="translate(562.09,350.40) rotate(-90)" font-size="6.1" fill="#4d4d4d" text-anchor="end">2:24 PM</text>
<text transform="translate(571.10,350.40) rotate(-90)" font-size="6.1" fill="#4d4d4d" text-anchor="end">2:56 PM</text>
<text transform="translate(580.12,350.40) rotate(-90)" font-size="6.1" fill="#4d4d4d" text-anchor="end">3:32 PM</text>
<text transform="translate(589.13,350.40) rotate(-90)" font-size="6.1" fill="#4d4d4d" text-anchor="end">4:00 PM</text>
<text transform="translate(598.15,350.40) rotate(-90)" font-size="6.1" fill="#4d4d4d" text-anchor="end">4:39 PM</text>
<text transform="translate(607.16,350.40) rotate(-90)" font-size="6.1" fill="#4d4d4d" text-anchor="end">4:55 PM</text>
<text transform="translate(616.18,350.40) rotate(-90)" font-size="6.1" fill="#4d4d4d" text-anchor="end">5:11 PM</text>
<text transform="translate(625.20,350.40) rotate(-90)" font-size="6.1" fill="#4d4d4d" text-anchor="end">5:43 PM</text>
<text transform="translate(634.21,350.40) rotate(-90)" font-size="6.1" fill="#4d4d4d" text-anchor="end">6:14 PM</text>
<text transform="translate(643.23,350.40) rotate(-90)" font-size="6.1" fill="#4d4d4d" text-anchor="end">6:28 PM</text>
<text transform="translate(652.24,350.40) rotate(-90)" font-size="6.1" fill="#4d4d4d" text-anchor="end">6:50 PM</text>
<text transform="translate(661.26,350.40) rotate(-90)" font-size="6.1" fill="#4d4d4d" text-anchor="end">7:25 PM</text>
<text transform="translate(670.28,350.40) rotate(-90)" font-size="6.1" fill="#4d4d4d" text-anchor="end">8:14 PM</text>
<text transform="translate(679.29,350.40) rotate(-90)" font-size="6.1" fill="#4d4d4d" text-anchor="end">9:02 PM</text>
<text x="525.18" y="383.80" font-size="6.7" fill="#4a4a4a" text-anchor="middle">Time</text>
<text transform="translate(353.40,274.70) rotate(-90)" font-size="6.4" fill="#4a4a4a" text-anchor="middle">Loading</text>
<text x="527.80" y="395.10" font-size="10.5" fill="#000" text-anchor="middle" class="cap">(d)</text>
</svg></body></html>
